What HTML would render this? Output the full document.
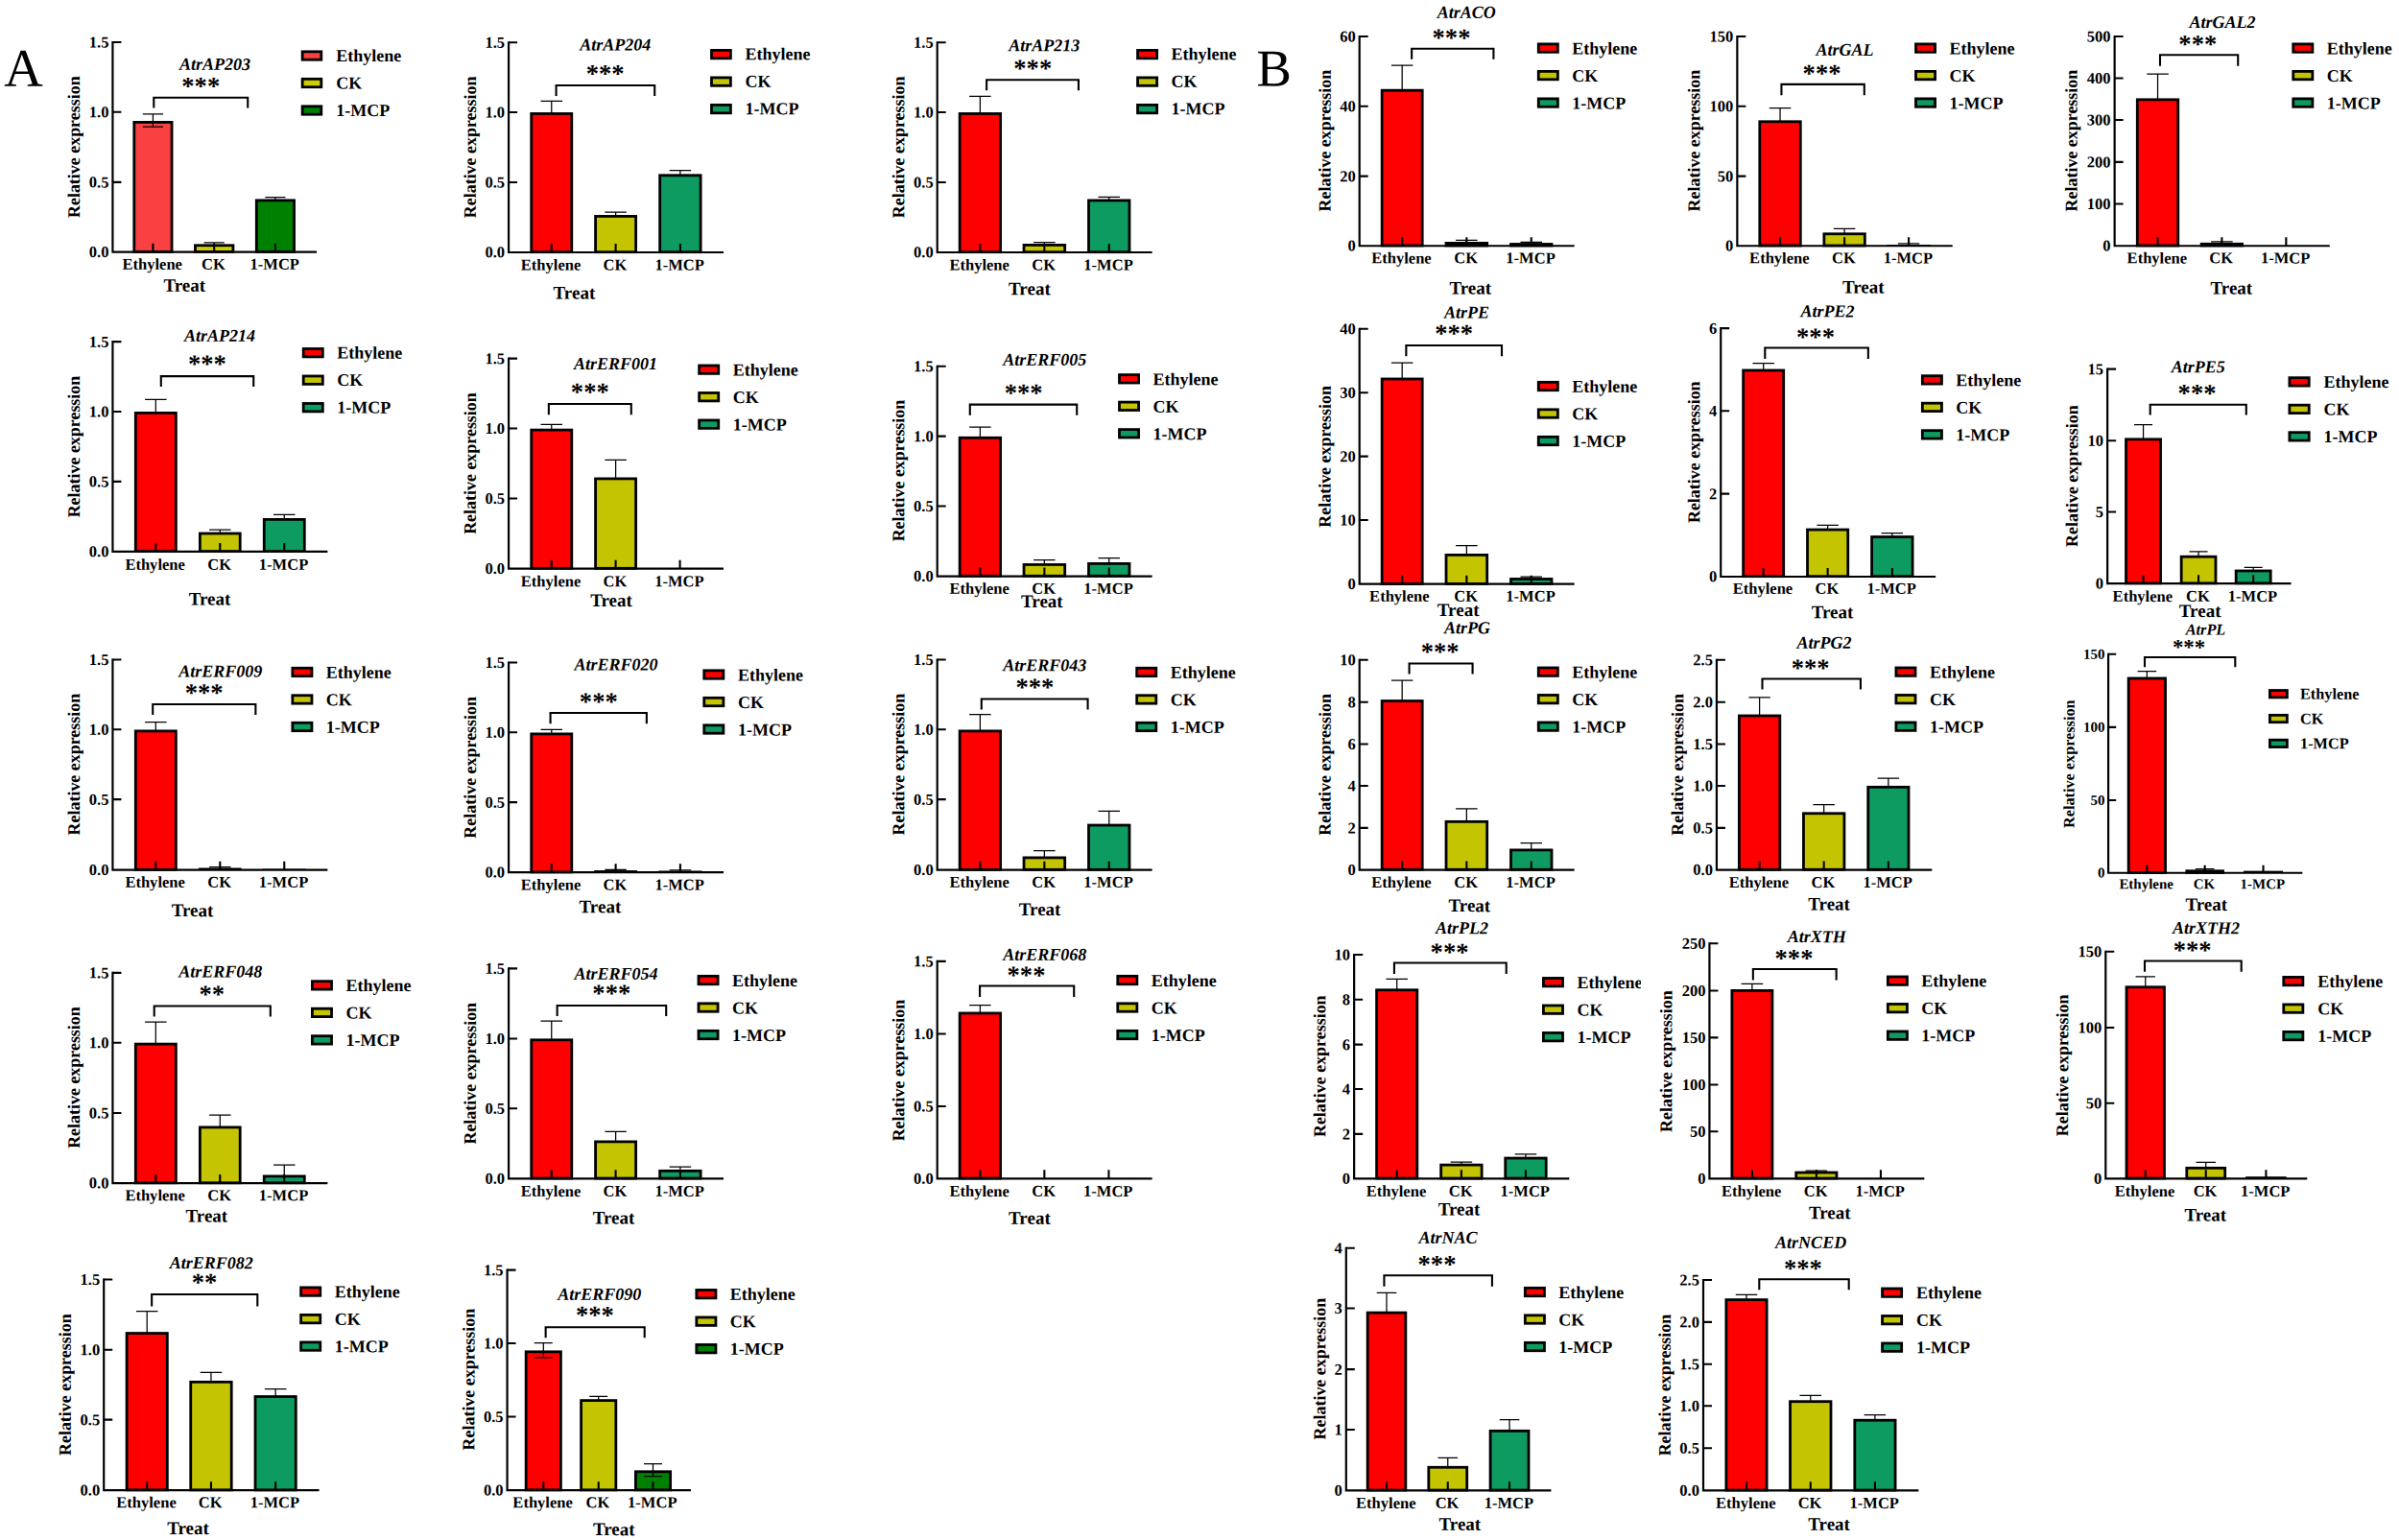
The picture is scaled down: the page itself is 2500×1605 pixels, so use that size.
<!DOCTYPE html><html><head><meta charset="utf-8"><title>Figure</title><style>html,body{margin:0;padding:0;background:#fff;overflow:hidden}svg{display:block}</style></head><body><svg width="2500" height="1605" viewBox="0 0 2500 1605" font-family="'Liberation Serif','Times New Roman',serif" font-weight="bold" fill="#000"><text x="4.3" y="89.7" transform="rotate(0.05 4.3 89.7)" font-size="56" font-weight="normal">A</text><text x="1309.5" y="89.5" transform="rotate(0.05 1309.5 89.5)" font-size="54.5" font-weight="normal">B</text><g><rect x="139.81" y="127.4" width="39.24" height="135" fill="#f94141" stroke="#000" stroke-width="2.8"/><rect x="203.45" y="255.76" width="39.46" height="6.64" fill="#cdcd00" stroke="#000" stroke-width="2.8"/><rect x="267.31" y="208.83" width="39.24" height="53.57" fill="#008000" stroke="#000" stroke-width="2.8"/><path d="M148.83 118.93H170.03M148.83 132.21H170.03M159.43 118.93V132.21" stroke="#000" stroke-width="1.25" fill="none"/><path d="M212.58 252.86H233.78M223.18 252.86V255.36" stroke="#000" stroke-width="1.25" fill="none"/><path d="M276.33 205.71H297.53M286.93 205.71V208.43" stroke="#000" stroke-width="1.25" fill="none"/><path d="M117.43 42.88V262.7H330" stroke="#000" stroke-width="2.2" fill="none" stroke-linejoin="miter" stroke-linecap="butt"/><path d="M117.43 43.93H126.43M117.43 116.79H126.43M117.43 189.86H126.43M159.43 262.7V253.7M223.18 262.7V253.7M286.93 262.7V253.7" stroke="#000" stroke-width="2.1" fill="none"/><text x="113.43" y="49.47" transform="rotate(0.05 113.43 49.47)" font-size="16.55" text-anchor="end">1.5</text><text x="113.43" y="122.33" transform="rotate(0.05 113.43 122.33)" font-size="16.55" text-anchor="end">1.0</text><text x="113.43" y="195.4" transform="rotate(0.05 113.43 195.4)" font-size="16.55" text-anchor="end">0.5</text><text x="113.43" y="268.04" transform="rotate(0.05 113.43 268.04)" font-size="16.55" text-anchor="end">0.0</text><text x="158.73" y="280.81" transform="rotate(0.05 158.73 280.81)" font-size="16.55" text-anchor="middle">Ethylene</text><text x="222.48" y="280.81" transform="rotate(0.05 222.48 280.81)" font-size="16.55" text-anchor="middle">CK</text><text x="286.23" y="280.81" transform="rotate(0.05 286.23 280.81)" font-size="16.55" text-anchor="middle">1-MCP</text><text transform="translate(83.03 153.21) rotate(-89.95)" font-size="17.95" text-anchor="middle">Relative expression</text><text x="192.21" y="303.71" transform="rotate(0.05 192.21 303.71)" font-size="19" text-anchor="middle">Treat</text><text x="223.89" y="72.86" transform="rotate(0.05 223.89 72.86)" font-size="18" font-style="italic" text-anchor="middle">AtrAP203</text><text x="209.25" y="98.59" transform="rotate(0.05 209.25 98.59)" font-size="26.6" text-anchor="middle">***</text><path d="M160.29 112.56V101.79H258.21V112.56" stroke="#000" stroke-width="2.1" fill="none"/><rect x="315.13" y="53.83" width="19.67" height="8.4" fill="#f94141" stroke="#000" stroke-width="2.8"/><text x="350.16" y="63.96" transform="rotate(0.05 350.16 63.96)" font-size="18">Ethylene</text><rect x="315.13" y="82.33" width="19.67" height="8.4" fill="#cdcd00" stroke="#000" stroke-width="2.8"/><text x="350.16" y="92.46" transform="rotate(0.05 350.16 92.46)" font-size="18">CK</text><rect x="315.13" y="110.83" width="19.67" height="8.4" fill="#008000" stroke="#000" stroke-width="2.8"/><text x="350.16" y="120.96" transform="rotate(0.05 350.16 120.96)" font-size="18">1-MCP</text></g><g><rect x="553.74" y="118.47" width="42.03" height="144.21" fill="#ff0000" stroke="#000" stroke-width="2.8"/><rect x="620.59" y="225.4" width="42.03" height="37.29" fill="#c4c400" stroke="#000" stroke-width="2.8"/><rect x="687.66" y="182.76" width="42.46" height="79.93" fill="#0d9b62" stroke="#000" stroke-width="2.8"/><path d="M563.5 105.29H586M574.75 105.29V118.07" stroke="#000" stroke-width="1.25" fill="none"/><path d="M630.36 221H652.86M641.61 221V225" stroke="#000" stroke-width="1.25" fill="none"/><path d="M697.64 177.5H720.14M708.89 177.5V182.36" stroke="#000" stroke-width="1.25" fill="none"/><path d="M530.07 43.16V262.99H754" stroke="#000" stroke-width="2.2" fill="none" stroke-linejoin="miter" stroke-linecap="butt"/><path d="M530.07 44.21H539.07M530.07 117.07H539.07M530.07 189.93H539.07M574.75 262.99V253.99M641.61 262.99V253.99M708.89 262.99V253.99" stroke="#000" stroke-width="2.1" fill="none"/><text x="526.07" y="49.76" transform="rotate(0.05 526.07 49.76)" font-size="16.55" text-anchor="end">1.5</text><text x="526.07" y="122.62" transform="rotate(0.05 526.07 122.62)" font-size="16.55" text-anchor="end">1.0</text><text x="526.07" y="195.47" transform="rotate(0.05 526.07 195.47)" font-size="16.55" text-anchor="end">0.5</text><text x="526.07" y="268.33" transform="rotate(0.05 526.07 268.33)" font-size="16.55" text-anchor="end">0.0</text><text x="574.05" y="281.53" transform="rotate(0.05 574.05 281.53)" font-size="16.55" text-anchor="middle">Ethylene</text><text x="640.91" y="281.53" transform="rotate(0.05 640.91 281.53)" font-size="16.55" text-anchor="middle">CK</text><text x="708.19" y="281.53" transform="rotate(0.05 708.19 281.53)" font-size="16.55" text-anchor="middle">1-MCP</text><text transform="translate(495.89 153.39) rotate(-89.95)" font-size="17.95" text-anchor="middle">Relative expression</text><text x="598.43" y="311.5" transform="rotate(0.05 598.43 311.5)" font-size="19" text-anchor="middle">Treat</text><text x="641.25" y="52.57" transform="rotate(0.05 641.25 52.57)" font-size="18" font-style="italic" text-anchor="middle">AtrAP204</text><text x="630.68" y="85.49" transform="rotate(0.05 630.68 85.49)" font-size="26.6" text-anchor="middle">***</text><path d="M579.57 99.99V89H682.21V99.99" stroke="#000" stroke-width="2.1" fill="none"/><rect x="741.49" y="52.4" width="19.89" height="8.4" fill="#ff0000" stroke="#000" stroke-width="2.8"/><text x="776.51" y="62.31" transform="rotate(0.05 776.51 62.31)" font-size="18">Ethylene</text><rect x="741.49" y="80.9" width="19.89" height="8.4" fill="#c4c400" stroke="#000" stroke-width="2.8"/><text x="776.51" y="90.81" transform="rotate(0.05 776.51 90.81)" font-size="18">CK</text><rect x="741.49" y="109.4" width="19.89" height="8.4" fill="#0d9b62" stroke="#000" stroke-width="2.8"/><text x="776.51" y="119.31" transform="rotate(0.05 776.51 119.31)" font-size="18">1-MCP</text></g><g><rect x="1000.16" y="118.47" width="42.46" height="144.21" fill="#ff0000" stroke="#000" stroke-width="2.8"/><rect x="1067.02" y="255.4" width="42.67" height="7.29" fill="#c4c400" stroke="#000" stroke-width="2.8"/><rect x="1134.52" y="208.9" width="42.46" height="53.79" fill="#0d9b62" stroke="#000" stroke-width="2.8"/><path d="M1010.14 100.36H1032.64M1021.39 100.36V118.07" stroke="#000" stroke-width="1.25" fill="none"/><path d="M1077.11 252.5H1099.61M1088.36 252.5V255" stroke="#000" stroke-width="1.25" fill="none"/><path d="M1144.5 205.36H1167M1155.75 205.36V208.5" stroke="#000" stroke-width="1.25" fill="none"/><path d="M976.71 43.16V262.99H1200.64" stroke="#000" stroke-width="2.2" fill="none" stroke-linejoin="miter" stroke-linecap="butt"/><path d="M976.71 44.21H985.71M976.71 117.07H985.71M976.71 189.93H985.71M1021.39 262.99V253.99M1088.36 262.99V253.99M1155.75 262.99V253.99" stroke="#000" stroke-width="2.1" fill="none"/><text x="972.71" y="49.76" transform="rotate(0.05 972.71 49.76)" font-size="16.55" text-anchor="end">1.5</text><text x="972.71" y="122.62" transform="rotate(0.05 972.71 122.62)" font-size="16.55" text-anchor="end">1.0</text><text x="972.71" y="195.47" transform="rotate(0.05 972.71 195.47)" font-size="16.55" text-anchor="end">0.5</text><text x="972.71" y="268.33" transform="rotate(0.05 972.71 268.33)" font-size="16.55" text-anchor="end">0.0</text><text x="1020.69" y="281.53" transform="rotate(0.05 1020.69 281.53)" font-size="16.55" text-anchor="middle">Ethylene</text><text x="1087.66" y="281.53" transform="rotate(0.05 1087.66 281.53)" font-size="16.55" text-anchor="middle">CK</text><text x="1155.05" y="281.53" transform="rotate(0.05 1155.05 281.53)" font-size="16.55" text-anchor="middle">1-MCP</text><text transform="translate(942.32 153.39) rotate(-89.95)" font-size="17.95" text-anchor="middle">Relative expression</text><text x="1072.93" y="307.21" transform="rotate(0.05 1072.93 307.21)" font-size="19" text-anchor="middle">Treat</text><text x="1088.21" y="53.21" transform="rotate(0.05 1088.21 53.21)" font-size="18" font-style="italic" text-anchor="middle">AtrAP213</text><text x="1076.25" y="79.91" transform="rotate(0.05 1076.25 79.91)" font-size="26.6" text-anchor="middle">***</text><path d="M1028.14 94.2V83.21H1123.93V94.2" stroke="#000" stroke-width="2.1" fill="none"/><rect x="1185.56" y="52.4" width="20.1" height="8.4" fill="#ff0000" stroke="#000" stroke-width="2.8"/><text x="1220.59" y="62.31" transform="rotate(0.05 1220.59 62.31)" font-size="18">Ethylene</text><rect x="1185.56" y="80.9" width="20.1" height="8.4" fill="#c4c400" stroke="#000" stroke-width="2.8"/><text x="1220.59" y="90.81" transform="rotate(0.05 1220.59 90.81)" font-size="18">CK</text><rect x="1185.56" y="109.4" width="20.1" height="8.4" fill="#0d9b62" stroke="#000" stroke-width="2.8"/><text x="1220.59" y="119.31" transform="rotate(0.05 1220.59 119.31)" font-size="18">1-MCP</text></g><g><rect x="141.31" y="430.4" width="42.03" height="144.21" fill="#ff0000" stroke="#000" stroke-width="2.8"/><rect x="208.38" y="555.97" width="41.81" height="18.64" fill="#c4c400" stroke="#000" stroke-width="2.8"/><rect x="275.24" y="541.4" width="42.03" height="33.21" fill="#0d9b62" stroke="#000" stroke-width="2.8"/><path d="M151.07 416.36H173.57M162.32 416.36V430" stroke="#000" stroke-width="1.25" fill="none"/><path d="M218.04 552.21H240.54M229.29 552.21V555.57" stroke="#000" stroke-width="1.25" fill="none"/><path d="M285 536.36H307.5M296.25 536.36V541" stroke="#000" stroke-width="1.25" fill="none"/><path d="M117.43 355.09V574.91H341.36" stroke="#000" stroke-width="2.2" fill="none" stroke-linejoin="miter" stroke-linecap="butt"/><path d="M117.43 356.14H126.43M117.43 429H126.43M117.43 501.86H126.43M162.32 574.91V565.91M229.29 574.91V565.91M296.25 574.91V565.91" stroke="#000" stroke-width="2.1" fill="none"/><text x="113.43" y="361.69" transform="rotate(0.05 113.43 361.69)" font-size="16.55" text-anchor="end">1.5</text><text x="113.43" y="434.54" transform="rotate(0.05 113.43 434.54)" font-size="16.55" text-anchor="end">1.0</text><text x="113.43" y="507.4" transform="rotate(0.05 113.43 507.4)" font-size="16.55" text-anchor="end">0.5</text><text x="113.43" y="580.26" transform="rotate(0.05 113.43 580.26)" font-size="16.55" text-anchor="end">0.0</text><text x="161.62" y="593.67" transform="rotate(0.05 161.62 593.67)" font-size="16.55" text-anchor="middle">Ethylene</text><text x="228.59" y="593.67" transform="rotate(0.05 228.59 593.67)" font-size="16.55" text-anchor="middle">CK</text><text x="295.55" y="593.67" transform="rotate(0.05 295.55 593.67)" font-size="16.55" text-anchor="middle">1-MCP</text><text transform="translate(83.03 465.54) rotate(-89.95)" font-size="17.95" text-anchor="middle">Relative expression</text><text x="218.57" y="630.5" transform="rotate(0.05 218.57 630.5)" font-size="19" text-anchor="middle">Treat</text><text x="228.93" y="355.71" transform="rotate(0.05 228.93 355.71)" font-size="18" font-style="italic" text-anchor="middle">AtrAP214</text><text x="215.89" y="387.99" transform="rotate(0.05 215.89 387.99)" font-size="26.6" text-anchor="middle">***</text><path d="M167.79 402.91V392.14H264.21V402.91" stroke="#000" stroke-width="2.1" fill="none"/><rect x="316.2" y="363.47" width="20.1" height="8.4" fill="#ff0000" stroke="#000" stroke-width="2.8"/><text x="351.23" y="373.6" transform="rotate(0.05 351.23 373.6)" font-size="18">Ethylene</text><rect x="316.2" y="391.97" width="20.1" height="8.4" fill="#c4c400" stroke="#000" stroke-width="2.8"/><text x="351.23" y="402.1" transform="rotate(0.05 351.23 402.1)" font-size="18">CK</text><rect x="316.2" y="420.47" width="20.1" height="8.4" fill="#0d9b62" stroke="#000" stroke-width="2.8"/><text x="351.23" y="430.6" transform="rotate(0.05 351.23 430.6)" font-size="18">1-MCP</text></g><g><rect x="553.74" y="448.11" width="42.03" height="144.21" fill="#ff0000" stroke="#000" stroke-width="2.8"/><rect x="620.59" y="498.9" width="42.03" height="93.43" fill="#c4c400" stroke="#000" stroke-width="2.8"/><path d="M563.5 442.43H586M574.75 442.43V447.71" stroke="#000" stroke-width="1.25" fill="none"/><path d="M630.36 479.29H652.86M641.61 479.29V498.5" stroke="#000" stroke-width="1.25" fill="none"/><path d="M530.07 372.59V592.63H754" stroke="#000" stroke-width="2.2" fill="none" stroke-linejoin="miter" stroke-linecap="butt"/><path d="M530.07 373.64H539.07M530.07 446.5H539.07M530.07 519.57H539.07M574.75 592.63V583.63M641.61 592.63V583.63M708.57 592.63V583.63" stroke="#000" stroke-width="2.1" fill="none"/><text x="526.07" y="379.19" transform="rotate(0.05 526.07 379.19)" font-size="16.55" text-anchor="end">1.5</text><text x="526.07" y="452.04" transform="rotate(0.05 526.07 452.04)" font-size="16.55" text-anchor="end">1.0</text><text x="526.07" y="525.12" transform="rotate(0.05 526.07 525.12)" font-size="16.55" text-anchor="end">0.5</text><text x="526.07" y="597.97" transform="rotate(0.05 526.07 597.97)" font-size="16.55" text-anchor="end">0.0</text><text x="574.05" y="611.17" transform="rotate(0.05 574.05 611.17)" font-size="16.55" text-anchor="middle">Ethylene</text><text x="640.91" y="611.17" transform="rotate(0.05 640.91 611.17)" font-size="16.55" text-anchor="middle">CK</text><text x="707.87" y="611.17" transform="rotate(0.05 707.87 611.17)" font-size="16.55" text-anchor="middle">1-MCP</text><text transform="translate(495.89 483.04) rotate(-89.95)" font-size="17.95" text-anchor="middle">Relative expression</text><text x="637" y="631.93" transform="rotate(0.05 637 631.93)" font-size="19" text-anchor="middle">Treat</text><text x="641.57" y="385" transform="rotate(0.05 641.57 385)" font-size="18" font-style="italic" text-anchor="middle">AtrERF001</text><text x="614.82" y="417.27" transform="rotate(0.05 614.82 417.27)" font-size="26.6" text-anchor="middle">***</text><path d="M571.86 432.2V421H657.79V432.2" stroke="#000" stroke-width="2.1" fill="none"/><rect x="728.63" y="380.97" width="20.1" height="8.4" fill="#ff0000" stroke="#000" stroke-width="2.8"/><text x="763.66" y="391.53" transform="rotate(0.05 763.66 391.53)" font-size="18">Ethylene</text><rect x="728.63" y="409.47" width="20.1" height="8.4" fill="#c4c400" stroke="#000" stroke-width="2.8"/><text x="763.66" y="420.03" transform="rotate(0.05 763.66 420.03)" font-size="18">CK</text><rect x="728.63" y="437.97" width="20.1" height="8.4" fill="#0d9b62" stroke="#000" stroke-width="2.8"/><text x="763.66" y="448.53" transform="rotate(0.05 763.66 448.53)" font-size="18">1-MCP</text></g><g><rect x="1000.16" y="456.26" width="42.46" height="144" fill="#ff0000" stroke="#000" stroke-width="2.8"/><rect x="1067.02" y="588.47" width="42.67" height="11.79" fill="#c4c400" stroke="#000" stroke-width="2.8"/><rect x="1134.52" y="587.4" width="42.46" height="12.86" fill="#0d9b62" stroke="#000" stroke-width="2.8"/><path d="M1010.14 445H1032.64M1021.39 445V455.86" stroke="#000" stroke-width="1.25" fill="none"/><path d="M1077.11 583.64H1099.61M1088.36 583.64V588.07" stroke="#000" stroke-width="1.25" fill="none"/><path d="M1144.5 581.71H1167M1155.75 581.71V587" stroke="#000" stroke-width="1.25" fill="none"/><path d="M976.71 380.74V600.56H1200.64" stroke="#000" stroke-width="2.2" fill="none" stroke-linejoin="miter" stroke-linecap="butt"/><path d="M976.71 381.79H985.71M976.71 454.64H985.71M976.71 527.5H985.71M1021.39 600.56V591.56M1088.36 600.56V591.56M1155.75 600.56V591.56" stroke="#000" stroke-width="2.1" fill="none"/><text x="972.71" y="387.33" transform="rotate(0.05 972.71 387.33)" font-size="16.55" text-anchor="end">1.5</text><text x="972.71" y="460.19" transform="rotate(0.05 972.71 460.19)" font-size="16.55" text-anchor="end">1.0</text><text x="972.71" y="533.04" transform="rotate(0.05 972.71 533.04)" font-size="16.55" text-anchor="end">0.5</text><text x="972.71" y="605.9" transform="rotate(0.05 972.71 605.9)" font-size="16.55" text-anchor="end">0.0</text><text x="1020.69" y="618.67" transform="rotate(0.05 1020.69 618.67)" font-size="16.55" text-anchor="middle">Ethylene</text><text x="1087.66" y="618.67" transform="rotate(0.05 1087.66 618.67)" font-size="16.55" text-anchor="middle">CK</text><text x="1155.05" y="618.67" transform="rotate(0.05 1155.05 618.67)" font-size="16.55" text-anchor="middle">1-MCP</text><text transform="translate(942.32 490.54) rotate(-89.95)" font-size="17.95" text-anchor="middle">Relative expression</text><text x="1085.89" y="633" transform="rotate(0.05 1085.89 633)" font-size="19" text-anchor="middle">Treat</text><text x="1088.75" y="380.71" transform="rotate(0.05 1088.75 380.71)" font-size="18" font-style="italic" text-anchor="middle">AtrERF005</text><text x="1066.61" y="418.34" transform="rotate(0.05 1066.61 418.34)" font-size="26.6" text-anchor="middle">***</text><path d="M1010.79 432.84V421.64H1122.21V432.84" stroke="#000" stroke-width="2.1" fill="none"/><rect x="1166.49" y="390.61" width="20.1" height="8.4" fill="#ff0000" stroke="#000" stroke-width="2.8"/><text x="1201.51" y="401.17" transform="rotate(0.05 1201.51 401.17)" font-size="18">Ethylene</text><rect x="1166.49" y="419.11" width="20.1" height="8.4" fill="#c4c400" stroke="#000" stroke-width="2.8"/><text x="1201.51" y="429.67" transform="rotate(0.05 1201.51 429.67)" font-size="18">CK</text><rect x="1166.49" y="447.61" width="20.1" height="8.4" fill="#0d9b62" stroke="#000" stroke-width="2.8"/><text x="1201.51" y="458.17" transform="rotate(0.05 1201.51 458.17)" font-size="18">1-MCP</text></g><g><rect x="141.31" y="761.9" width="42.03" height="144.43" fill="#ff0000" stroke="#000" stroke-width="2.8"/><rect x="206.98" y="904.5" width="44.61" height="2.13" fill="#000"/><rect x="273.84" y="905.57" width="44.83" height="1.06" fill="#000"/><path d="M151.07 752.57H173.57M162.32 752.57V761.5" stroke="#000" stroke-width="1.25" fill="none"/><path d="M218.04 903.64H240.54M229.29 903.64V905.5" stroke="#000" stroke-width="1.25" fill="none"/><path d="M117.43 686.38V906.63H341.36" stroke="#000" stroke-width="2.2" fill="none" stroke-linejoin="miter" stroke-linecap="butt"/><path d="M117.43 687.43H126.43M117.43 760.29H126.43M117.43 833.14H126.43M162.32 906.63V897.63M229.29 906.63V897.63M296.25 906.63V897.63" stroke="#000" stroke-width="2.1" fill="none"/><text x="113.43" y="692.97" transform="rotate(0.05 113.43 692.97)" font-size="16.55" text-anchor="end">1.5</text><text x="113.43" y="765.83" transform="rotate(0.05 113.43 765.83)" font-size="16.55" text-anchor="end">1.0</text><text x="113.43" y="838.69" transform="rotate(0.05 113.43 838.69)" font-size="16.55" text-anchor="end">0.5</text><text x="113.43" y="911.97" transform="rotate(0.05 113.43 911.97)" font-size="16.55" text-anchor="end">0.0</text><text x="161.62" y="924.74" transform="rotate(0.05 161.62 924.74)" font-size="16.55" text-anchor="middle">Ethylene</text><text x="228.59" y="924.74" transform="rotate(0.05 228.59 924.74)" font-size="16.55" text-anchor="middle">CK</text><text x="295.55" y="924.74" transform="rotate(0.05 295.55 924.74)" font-size="16.55" text-anchor="middle">1-MCP</text><text transform="translate(83.03 796.61) rotate(-89.95)" font-size="17.95" text-anchor="middle">Relative expression</text><text x="200.57" y="955.14" transform="rotate(0.05 200.57 955.14)" font-size="19" text-anchor="middle">Treat</text><text x="229.79" y="705.43" transform="rotate(0.05 229.79 705.43)" font-size="18" font-style="italic" text-anchor="middle">AtrERF009</text><text x="212.68" y="730.84" transform="rotate(0.05 212.68 730.84)" font-size="26.6" text-anchor="middle">***</text><path d="M159.21 744.91V733.93H266.36V744.91" stroke="#000" stroke-width="2.1" fill="none"/><rect x="304.84" y="696.26" width="20.1" height="8.4" fill="#ff0000" stroke="#000" stroke-width="2.8"/><text x="339.87" y="706.81" transform="rotate(0.05 339.87 706.81)" font-size="18">Ethylene</text><rect x="304.84" y="724.76" width="20.1" height="8.4" fill="#c4c400" stroke="#000" stroke-width="2.8"/><text x="339.87" y="735.31" transform="rotate(0.05 339.87 735.31)" font-size="18">CK</text><rect x="304.84" y="753.26" width="20.1" height="8.4" fill="#0d9b62" stroke="#000" stroke-width="2.8"/><text x="339.87" y="763.81" transform="rotate(0.05 339.87 763.81)" font-size="18">1-MCP</text></g><g><rect x="553.74" y="764.9" width="42.03" height="144" fill="#ff0000" stroke="#000" stroke-width="2.8"/><rect x="619.19" y="907.07" width="44.83" height="2.13" fill="#000"/><rect x="686.26" y="907.5" width="45.26" height="1.7" fill="#000"/><path d="M563.5 760.29H586M574.75 760.29V764.5" stroke="#000" stroke-width="1.25" fill="none"/><path d="M630.36 906.43H652.86M641.61 906.43V908.07" stroke="#000" stroke-width="1.25" fill="none"/><path d="M697.64 906.86H720.14M708.89 906.86V908.5" stroke="#000" stroke-width="1.25" fill="none"/><path d="M530.07 689.38V909.2H754" stroke="#000" stroke-width="2.2" fill="none" stroke-linejoin="miter" stroke-linecap="butt"/><path d="M530.07 690.43H539.07M530.07 763.29H539.07M530.07 836.14H539.07M574.75 909.2V900.2M641.61 909.2V900.2M708.89 909.2V900.2" stroke="#000" stroke-width="2.1" fill="none"/><text x="526.07" y="695.97" transform="rotate(0.05 526.07 695.97)" font-size="16.55" text-anchor="end">1.5</text><text x="526.07" y="768.83" transform="rotate(0.05 526.07 768.83)" font-size="16.55" text-anchor="end">1.0</text><text x="526.07" y="841.69" transform="rotate(0.05 526.07 841.69)" font-size="16.55" text-anchor="end">0.5</text><text x="526.07" y="914.54" transform="rotate(0.05 526.07 914.54)" font-size="16.55" text-anchor="end">0.0</text><text x="574.05" y="927.53" transform="rotate(0.05 574.05 927.53)" font-size="16.55" text-anchor="middle">Ethylene</text><text x="640.91" y="927.53" transform="rotate(0.05 640.91 927.53)" font-size="16.55" text-anchor="middle">CK</text><text x="708.19" y="927.53" transform="rotate(0.05 708.19 927.53)" font-size="16.55" text-anchor="middle">1-MCP</text><text transform="translate(495.89 799.82) rotate(-89.95)" font-size="17.95" text-anchor="middle">Relative expression</text><text x="625.43" y="951.29" transform="rotate(0.05 625.43 951.29)" font-size="19" text-anchor="middle">Treat</text><text x="642.11" y="698.57" transform="rotate(0.05 642.11 698.57)" font-size="18" font-style="italic" text-anchor="middle">AtrERF020</text><text x="623.82" y="739.95" transform="rotate(0.05 623.82 739.95)" font-size="26.6" text-anchor="middle">***</text><path d="M573.57 754.34V742.93H673.86V754.34" stroke="#000" stroke-width="2.1" fill="none"/><rect x="733.77" y="698.83" width="20.1" height="8.4" fill="#ff0000" stroke="#000" stroke-width="2.8"/><text x="769.01" y="709.39" transform="rotate(0.05 769.01 709.39)" font-size="18">Ethylene</text><rect x="733.77" y="727.33" width="20.1" height="8.4" fill="#c4c400" stroke="#000" stroke-width="2.8"/><text x="769.01" y="737.89" transform="rotate(0.05 769.01 737.89)" font-size="18">CK</text><rect x="733.77" y="755.83" width="20.1" height="8.4" fill="#0d9b62" stroke="#000" stroke-width="2.8"/><text x="769.01" y="766.39" transform="rotate(0.05 769.01 766.39)" font-size="18">1-MCP</text></g><g><rect x="1000.16" y="761.9" width="42.46" height="144.43" fill="#ff0000" stroke="#000" stroke-width="2.8"/><rect x="1067.02" y="893.9" width="42.67" height="12.43" fill="#c4c400" stroke="#000" stroke-width="2.8"/><rect x="1134.52" y="860.04" width="42.46" height="46.29" fill="#0d9b62" stroke="#000" stroke-width="2.8"/><path d="M1010.14 744.64H1032.64M1021.39 744.64V761.5" stroke="#000" stroke-width="1.25" fill="none"/><path d="M1077.11 886.71H1099.61M1088.36 886.71V893.5" stroke="#000" stroke-width="1.25" fill="none"/><path d="M1144.5 845.36H1167M1155.75 845.36V859.64" stroke="#000" stroke-width="1.25" fill="none"/><path d="M976.71 686.38V906.63H1200.64" stroke="#000" stroke-width="2.2" fill="none" stroke-linejoin="miter" stroke-linecap="butt"/><path d="M976.71 687.43H985.71M976.71 760.29H985.71M976.71 833.14H985.71M1021.39 906.63V897.63M1088.36 906.63V897.63M1155.75 906.63V897.63" stroke="#000" stroke-width="2.1" fill="none"/><text x="972.71" y="692.97" transform="rotate(0.05 972.71 692.97)" font-size="16.55" text-anchor="end">1.5</text><text x="972.71" y="765.83" transform="rotate(0.05 972.71 765.83)" font-size="16.55" text-anchor="end">1.0</text><text x="972.71" y="838.69" transform="rotate(0.05 972.71 838.69)" font-size="16.55" text-anchor="end">0.5</text><text x="972.71" y="911.97" transform="rotate(0.05 972.71 911.97)" font-size="16.55" text-anchor="end">0.0</text><text x="1020.69" y="924.74" transform="rotate(0.05 1020.69 924.74)" font-size="16.55" text-anchor="middle">Ethylene</text><text x="1087.66" y="924.74" transform="rotate(0.05 1087.66 924.74)" font-size="16.55" text-anchor="middle">CK</text><text x="1155.05" y="924.74" transform="rotate(0.05 1155.05 924.74)" font-size="16.55" text-anchor="middle">1-MCP</text><text transform="translate(942.32 796.61) rotate(-89.95)" font-size="17.95" text-anchor="middle">Relative expression</text><text x="1083.64" y="954.07" transform="rotate(0.05 1083.64 954.07)" font-size="19" text-anchor="middle">Treat</text><text x="1088.75" y="699.21" transform="rotate(0.05 1088.75 699.21)" font-size="18" font-style="italic" text-anchor="middle">AtrERF043</text><text x="1078.39" y="724.95" transform="rotate(0.05 1078.39 724.95)" font-size="26.6" text-anchor="middle">***</text><path d="M1022.79 739.56V728.57H1133.57V739.56" stroke="#000" stroke-width="2.1" fill="none"/><rect x="1184.7" y="696.26" width="20.1" height="8.4" fill="#ff0000" stroke="#000" stroke-width="2.8"/><text x="1219.73" y="706.81" transform="rotate(0.05 1219.73 706.81)" font-size="18">Ethylene</text><rect x="1184.7" y="724.76" width="20.1" height="8.4" fill="#c4c400" stroke="#000" stroke-width="2.8"/><text x="1219.73" y="735.31" transform="rotate(0.05 1219.73 735.31)" font-size="18">CK</text><rect x="1184.7" y="753.26" width="20.1" height="8.4" fill="#0d9b62" stroke="#000" stroke-width="2.8"/><text x="1219.73" y="763.81" transform="rotate(0.05 1219.73 763.81)" font-size="18">1-MCP</text></g><g><rect x="141.31" y="1088.11" width="42.03" height="144.64" fill="#ff0000" stroke="#000" stroke-width="2.8"/><rect x="208.38" y="1174.9" width="41.81" height="57.86" fill="#c4c400" stroke="#000" stroke-width="2.8"/><rect x="275.24" y="1225.9" width="42.03" height="6.86" fill="#0d9b62" stroke="#000" stroke-width="2.8"/><path d="M151.07 1065.07H173.57M162.32 1065.07V1087.71" stroke="#000" stroke-width="1.25" fill="none"/><path d="M218.04 1162.14H240.54M229.29 1162.14V1174.5" stroke="#000" stroke-width="1.25" fill="none"/><path d="M285 1214.21H307.5M296.25 1214.21V1225.5" stroke="#000" stroke-width="1.25" fill="none"/><path d="M117.43 1012.81V1233.06H341.36" stroke="#000" stroke-width="2.2" fill="none" stroke-linejoin="miter" stroke-linecap="butt"/><path d="M117.43 1013.86H126.43M117.43 1086.71H126.43M117.43 1160H126.43M162.32 1233.06V1224.06M229.29 1233.06V1224.06M296.25 1233.06V1224.06" stroke="#000" stroke-width="2.1" fill="none"/><text x="113.43" y="1019.4" transform="rotate(0.05 113.43 1019.4)" font-size="16.55" text-anchor="end">1.5</text><text x="113.43" y="1092.26" transform="rotate(0.05 113.43 1092.26)" font-size="16.55" text-anchor="end">1.0</text><text x="113.43" y="1165.54" transform="rotate(0.05 113.43 1165.54)" font-size="16.55" text-anchor="end">0.5</text><text x="113.43" y="1238.4" transform="rotate(0.05 113.43 1238.4)" font-size="16.55" text-anchor="end">0.0</text><text x="161.62" y="1251.17" transform="rotate(0.05 161.62 1251.17)" font-size="16.55" text-anchor="middle">Ethylene</text><text x="228.59" y="1251.17" transform="rotate(0.05 228.59 1251.17)" font-size="16.55" text-anchor="middle">CK</text><text x="295.55" y="1251.17" transform="rotate(0.05 295.55 1251.17)" font-size="16.55" text-anchor="middle">1-MCP</text><text transform="translate(83.03 1123.04) rotate(-89.95)" font-size="17.95" text-anchor="middle">Relative expression</text><text x="215.36" y="1273.43" transform="rotate(0.05 215.36 1273.43)" font-size="19" text-anchor="middle">Treat</text><text x="229.79" y="1018.57" transform="rotate(0.05 229.79 1018.57)" font-size="18" font-style="italic" text-anchor="middle">AtrERF048</text><text x="220.71" y="1044.95" transform="rotate(0.05 220.71 1044.95)" font-size="26.6" text-anchor="middle">**</text><path d="M160.71 1059.56V1048.57H281.79V1059.56" stroke="#000" stroke-width="2.1" fill="none"/><rect x="325.41" y="1022.69" width="20.1" height="8.4" fill="#ff0000" stroke="#000" stroke-width="2.8"/><text x="360.44" y="1033.03" transform="rotate(0.05 360.44 1033.03)" font-size="18">Ethylene</text><rect x="325.41" y="1051.19" width="20.1" height="8.4" fill="#c4c400" stroke="#000" stroke-width="2.8"/><text x="360.44" y="1061.53" transform="rotate(0.05 360.44 1061.53)" font-size="18">CK</text><rect x="325.41" y="1079.69" width="20.1" height="8.4" fill="#0d9b62" stroke="#000" stroke-width="2.8"/><text x="360.44" y="1090.03" transform="rotate(0.05 360.44 1090.03)" font-size="18">1-MCP</text></g><g><rect x="553.74" y="1083.83" width="42.03" height="144.21" fill="#ff0000" stroke="#000" stroke-width="2.8"/><rect x="620.59" y="1189.9" width="42.03" height="38.14" fill="#c4c400" stroke="#000" stroke-width="2.8"/><rect x="687.66" y="1220.33" width="42.46" height="7.71" fill="#0d9b62" stroke="#000" stroke-width="2.8"/><path d="M563.5 1064.21H586M574.75 1064.21V1083.43" stroke="#000" stroke-width="1.25" fill="none"/><path d="M630.36 1179.29H652.86M641.61 1179.29V1189.5" stroke="#000" stroke-width="1.25" fill="none"/><path d="M697.64 1216.14H720.14M708.89 1216.14V1219.93" stroke="#000" stroke-width="1.25" fill="none"/><path d="M530.07 1008.31V1228.34H754" stroke="#000" stroke-width="2.2" fill="none" stroke-linejoin="miter" stroke-linecap="butt"/><path d="M530.07 1009.36H539.07M530.07 1082.43H539.07M530.07 1155.29H539.07M574.75 1228.34V1219.34M641.61 1228.34V1219.34M708.89 1228.34V1219.34" stroke="#000" stroke-width="2.1" fill="none"/><text x="526.07" y="1014.9" transform="rotate(0.05 526.07 1014.9)" font-size="16.55" text-anchor="end">1.5</text><text x="526.07" y="1087.97" transform="rotate(0.05 526.07 1087.97)" font-size="16.55" text-anchor="end">1.0</text><text x="526.07" y="1160.83" transform="rotate(0.05 526.07 1160.83)" font-size="16.55" text-anchor="end">0.5</text><text x="526.07" y="1233.69" transform="rotate(0.05 526.07 1233.69)" font-size="16.55" text-anchor="end">0.0</text><text x="574.05" y="1246.89" transform="rotate(0.05 574.05 1246.89)" font-size="16.55" text-anchor="middle">Ethylene</text><text x="640.91" y="1246.89" transform="rotate(0.05 640.91 1246.89)" font-size="16.55" text-anchor="middle">CK</text><text x="708.19" y="1246.89" transform="rotate(0.05 708.19 1246.89)" font-size="16.55" text-anchor="middle">1-MCP</text><text transform="translate(495.89 1118.75) rotate(-89.95)" font-size="17.95" text-anchor="middle">Relative expression</text><text x="639.46" y="1275.57" transform="rotate(0.05 639.46 1275.57)" font-size="19" text-anchor="middle">Treat</text><text x="642.11" y="1020.71" transform="rotate(0.05 642.11 1020.71)" font-size="18" font-style="italic" text-anchor="middle">AtrERF054</text><text x="637.32" y="1043.99" transform="rotate(0.05 637.32 1043.99)" font-size="26.6" text-anchor="middle">***</text><path d="M580.64 1058.91V1047.93H694.21V1058.91" stroke="#000" stroke-width="2.1" fill="none"/><rect x="727.99" y="1017.33" width="20.1" height="8.4" fill="#ff0000" stroke="#000" stroke-width="2.8"/><text x="763.01" y="1027.89" transform="rotate(0.05 763.01 1027.89)" font-size="18">Ethylene</text><rect x="727.99" y="1045.83" width="20.1" height="8.4" fill="#c4c400" stroke="#000" stroke-width="2.8"/><text x="763.01" y="1056.39" transform="rotate(0.05 763.01 1056.39)" font-size="18">CK</text><rect x="727.99" y="1074.33" width="20.1" height="8.4" fill="#0d9b62" stroke="#000" stroke-width="2.8"/><text x="763.01" y="1084.89" transform="rotate(0.05 763.01 1084.89)" font-size="18">1-MCP</text></g><g><rect x="1000.16" y="1055.97" width="42.46" height="172.07" fill="#ff0000" stroke="#000" stroke-width="2.8"/><path d="M1010.14 1047.5H1032.64M1021.39 1047.5V1055.57" stroke="#000" stroke-width="1.25" fill="none"/><path d="M976.71 1000.81V1228.34H1200.64" stroke="#000" stroke-width="2.2" fill="none" stroke-linejoin="miter" stroke-linecap="butt"/><path d="M976.71 1001.86H985.71M976.71 1077.5H985.71M976.71 1152.93H985.71M1021.39 1228.34V1219.34M1088.36 1228.34V1219.34M1155.43 1228.34V1219.34" stroke="#000" stroke-width="2.1" fill="none"/><text x="972.71" y="1007.4" transform="rotate(0.05 972.71 1007.4)" font-size="16.55" text-anchor="end">1.5</text><text x="972.71" y="1083.04" transform="rotate(0.05 972.71 1083.04)" font-size="16.55" text-anchor="end">1.0</text><text x="972.71" y="1158.47" transform="rotate(0.05 972.71 1158.47)" font-size="16.55" text-anchor="end">0.5</text><text x="972.71" y="1233.69" transform="rotate(0.05 972.71 1233.69)" font-size="16.55" text-anchor="end">0.0</text><text x="1020.69" y="1246.89" transform="rotate(0.05 1020.69 1246.89)" font-size="16.55" text-anchor="middle">Ethylene</text><text x="1087.66" y="1246.89" transform="rotate(0.05 1087.66 1246.89)" font-size="16.55" text-anchor="middle">CK</text><text x="1154.73" y="1246.89" transform="rotate(0.05 1154.73 1246.89)" font-size="16.55" text-anchor="middle">1-MCP</text><text transform="translate(942.32 1115.54) rotate(-89.95)" font-size="17.95" text-anchor="middle">Relative expression</text><text x="1072.93" y="1275.79" transform="rotate(0.05 1072.93 1275.79)" font-size="19" text-anchor="middle">Treat</text><text x="1088.75" y="1000.79" transform="rotate(0.05 1088.75 1000.79)" font-size="18" font-style="italic" text-anchor="middle">AtrERF068</text><text x="1069.5" y="1025.13" transform="rotate(0.05 1069.5 1025.13)" font-size="26.6" text-anchor="middle">***</text><path d="M1021.07 1038.99V1027.57H1119.21V1038.99" stroke="#000" stroke-width="2.1" fill="none"/><rect x="1164.77" y="1017.33" width="20.1" height="8.4" fill="#ff0000" stroke="#000" stroke-width="2.8"/><text x="1199.8" y="1027.89" transform="rotate(0.05 1199.8 1027.89)" font-size="18">Ethylene</text><rect x="1164.77" y="1045.83" width="20.1" height="8.4" fill="#c4c400" stroke="#000" stroke-width="2.8"/><text x="1199.8" y="1056.39" transform="rotate(0.05 1199.8 1056.39)" font-size="18">CK</text><rect x="1164.77" y="1074.33" width="20.1" height="8.4" fill="#0d9b62" stroke="#000" stroke-width="2.8"/><text x="1199.8" y="1084.89" transform="rotate(0.05 1199.8 1084.89)" font-size="18">1-MCP</text></g><g><rect x="132.09" y="1389.54" width="42.24" height="163.29" fill="#ff0000" stroke="#000" stroke-width="2.8"/><rect x="198.74" y="1440.33" width="42.46" height="112.5" fill="#c4c400" stroke="#000" stroke-width="2.8"/><rect x="266.02" y="1455.54" width="42.24" height="97.29" fill="#0d9b62" stroke="#000" stroke-width="2.8"/><path d="M141.96 1366.5H164.46M153.21 1366.5V1389.14" stroke="#000" stroke-width="1.25" fill="none"/><path d="M208.71 1430.36H231.21M219.96 1430.36V1439.93" stroke="#000" stroke-width="1.25" fill="none"/><path d="M275.89 1447.71H298.39M287.14 1447.71V1455.14" stroke="#000" stroke-width="1.25" fill="none"/><path d="M108.21 1332.45V1553.13H332.57" stroke="#000" stroke-width="2.2" fill="none" stroke-linejoin="miter" stroke-linecap="butt"/><path d="M108.21 1333.5H117.21M108.21 1406.79H117.21M108.21 1479.64H117.21M153.21 1553.13V1544.13M219.96 1553.13V1544.13M287.14 1553.13V1544.13" stroke="#000" stroke-width="2.1" fill="none"/><text x="104.21" y="1339.04" transform="rotate(0.05 104.21 1339.04)" font-size="16.55" text-anchor="end">1.5</text><text x="104.21" y="1412.33" transform="rotate(0.05 104.21 1412.33)" font-size="16.55" text-anchor="end">1.0</text><text x="104.21" y="1485.19" transform="rotate(0.05 104.21 1485.19)" font-size="16.55" text-anchor="end">0.5</text><text x="104.21" y="1558.47" transform="rotate(0.05 104.21 1558.47)" font-size="16.55" text-anchor="end">0.0</text><text x="152.51" y="1571.24" transform="rotate(0.05 152.51 1571.24)" font-size="16.55" text-anchor="middle">Ethylene</text><text x="219.26" y="1571.24" transform="rotate(0.05 219.26 1571.24)" font-size="16.55" text-anchor="middle">CK</text><text x="286.44" y="1571.24" transform="rotate(0.05 286.44 1571.24)" font-size="16.55" text-anchor="middle">1-MCP</text><text transform="translate(73.82 1443.21) rotate(-89.95)" font-size="17.95" text-anchor="middle">Relative expression</text><text x="196.07" y="1599.07" transform="rotate(0.05 196.07 1599.07)" font-size="19" text-anchor="middle">Treat</text><text x="220.36" y="1322.14" transform="rotate(0.05 220.36 1322.14)" font-size="18" font-style="italic" text-anchor="middle">AtrERF082</text><text x="213" y="1345.31" transform="rotate(0.05 213 1345.31)" font-size="26.6" text-anchor="middle">**</text><path d="M158.14 1361.41V1348.93H268.29V1361.41" stroke="#000" stroke-width="2.1" fill="none"/><rect x="313.63" y="1341.9" width="20.1" height="8.4" fill="#ff0000" stroke="#000" stroke-width="2.8"/><text x="348.66" y="1352.24" transform="rotate(0.05 348.66 1352.24)" font-size="18">Ethylene</text><rect x="313.63" y="1370.4" width="20.1" height="8.4" fill="#c4c400" stroke="#000" stroke-width="2.8"/><text x="348.66" y="1380.74" transform="rotate(0.05 348.66 1380.74)" font-size="18">CK</text><rect x="313.63" y="1398.9" width="20.1" height="8.4" fill="#0d9b62" stroke="#000" stroke-width="2.8"/><text x="348.66" y="1409.24" transform="rotate(0.05 348.66 1409.24)" font-size="18">1-MCP</text></g><g><rect x="548.16" y="1408.83" width="36.24" height="144" fill="#ff0000" stroke="#000" stroke-width="2.8"/><rect x="605.59" y="1459.61" width="36.24" height="93.21" fill="#c4c400" stroke="#000" stroke-width="2.8"/><rect x="662.38" y="1533.76" width="36.24" height="19.07" fill="#008000" stroke="#000" stroke-width="2.8"/><path d="M556.79 1399.71H575.79M556.79 1414.93H575.79M566.29 1399.71V1414.93" stroke="#000" stroke-width="1.25" fill="none"/><path d="M614.21 1455.43H633.21M623.71 1455.43V1459.21" stroke="#000" stroke-width="1.25" fill="none"/><path d="M671 1525.71H690M671 1538.57H690M680.5 1525.71V1538.57" stroke="#000" stroke-width="1.25" fill="none"/><path d="M528.57 1322.59V1553.13H719.93" stroke="#000" stroke-width="2.2" fill="none" stroke-linejoin="miter" stroke-linecap="butt"/><path d="M528.57 1323.64H537.57M528.57 1399.93H537.57M528.57 1476.43H537.57M566.29 1553.13V1544.13M623.71 1553.13V1544.13M680.5 1553.13V1544.13" stroke="#000" stroke-width="2.1" fill="none"/><text x="524.57" y="1329.19" transform="rotate(0.05 524.57 1329.19)" font-size="16.55" text-anchor="end">1.5</text><text x="524.57" y="1405.47" transform="rotate(0.05 524.57 1405.47)" font-size="16.55" text-anchor="end">1.0</text><text x="524.57" y="1481.97" transform="rotate(0.05 524.57 1481.97)" font-size="16.55" text-anchor="end">0.5</text><text x="524.57" y="1558.47" transform="rotate(0.05 524.57 1558.47)" font-size="16.55" text-anchor="end">0.0</text><text x="565.59" y="1571.24" transform="rotate(0.05 565.59 1571.24)" font-size="16.55" text-anchor="middle">Ethylene</text><text x="623.01" y="1571.24" transform="rotate(0.05 623.01 1571.24)" font-size="16.55" text-anchor="middle">CK</text><text x="679.8" y="1571.24" transform="rotate(0.05 679.8 1571.24)" font-size="16.55" text-anchor="middle">1-MCP</text><text transform="translate(494.39 1437.64) rotate(-89.95)" font-size="17.95" text-anchor="middle">Relative expression</text><text x="639.79" y="1600.14" transform="rotate(0.05 639.79 1600.14)" font-size="19" text-anchor="middle">Treat</text><text x="624.75" y="1354.71" transform="rotate(0.05 624.75 1354.71)" font-size="18" font-style="italic" text-anchor="middle">AtrERF090</text><text x="619.86" y="1379.38" transform="rotate(0.05 619.86 1379.38)" font-size="26.6" text-anchor="middle">***</text><path d="M568.64 1394.2V1383.21H671.71V1394.2" stroke="#000" stroke-width="2.1" fill="none"/><rect x="725.84" y="1344.47" width="20.1" height="8.4" fill="#ff0000" stroke="#000" stroke-width="2.8"/><text x="760.87" y="1354.81" transform="rotate(0.05 760.87 1354.81)" font-size="18">Ethylene</text><rect x="725.84" y="1372.97" width="20.1" height="8.4" fill="#c4c400" stroke="#000" stroke-width="2.8"/><text x="760.87" y="1383.31" transform="rotate(0.05 760.87 1383.31)" font-size="18">CK</text><rect x="725.84" y="1401.47" width="20.1" height="8.4" fill="#008000" stroke="#000" stroke-width="2.8"/><text x="760.87" y="1411.81" transform="rotate(0.05 760.87 1411.81)" font-size="18">1-MCP</text></g><g><rect x="1440.16" y="94.19" width="42.03" height="161.79" fill="#ff0000" stroke="#000" stroke-width="2.8"/><rect x="1507.02" y="253.4" width="42.67" height="2.57" fill="#c4c400" stroke="#000" stroke-width="2.8"/><rect x="1574.52" y="254.47" width="42.46" height="1.5" fill="#0d9b62" stroke="#000" stroke-width="2.8"/><path d="M1449.93 68.14H1472.43M1461.18 68.14V93.79" stroke="#000" stroke-width="1.25" fill="none"/><path d="M1517.11 250.29H1539.61M1528.36 250.29V253" stroke="#000" stroke-width="1.25" fill="none"/><path d="M1584.5 252.43H1607M1595.75 252.43V254.07" stroke="#000" stroke-width="1.25" fill="none"/><path d="M1416.71 36.88V256.27H1640.64" stroke="#000" stroke-width="2.2" fill="none" stroke-linejoin="miter" stroke-linecap="butt"/><path d="M1416.71 37.93H1425.71M1416.71 110.79H1425.71M1416.71 183.64H1425.71M1461.18 256.27V247.27M1528.36 256.27V247.27M1595.75 256.27V247.27" stroke="#000" stroke-width="2.1" fill="none"/><text x="1412.71" y="43.47" transform="rotate(0.05 1412.71 43.47)" font-size="16.55" text-anchor="end">60</text><text x="1412.71" y="116.33" transform="rotate(0.05 1412.71 116.33)" font-size="16.55" text-anchor="end">40</text><text x="1412.71" y="189.19" transform="rotate(0.05 1412.71 189.19)" font-size="16.55" text-anchor="end">20</text><text x="1412.71" y="261.62" transform="rotate(0.05 1412.71 261.62)" font-size="16.55" text-anchor="end">0</text><text x="1460.48" y="274.39" transform="rotate(0.05 1460.48 274.39)" font-size="16.55" text-anchor="middle">Ethylene</text><text x="1527.66" y="274.39" transform="rotate(0.05 1527.66 274.39)" font-size="16.55" text-anchor="middle">CK</text><text x="1595.05" y="274.39" transform="rotate(0.05 1595.05 274.39)" font-size="16.55" text-anchor="middle">1-MCP</text><text transform="translate(1386.6 146.57) rotate(-89.95)" font-size="17.95" text-anchor="middle">Relative expression</text><text x="1532.21" y="306.5" transform="rotate(0.05 1532.21 306.5)" font-size="19" text-anchor="middle">Treat</text><text x="1528.32" y="18.86" transform="rotate(0.05 1528.32 18.86)" font-size="18" font-style="italic" text-anchor="middle">AtrACO</text><text x="1512.5" y="48.13" transform="rotate(0.05 1512.5 48.13)" font-size="26.6" text-anchor="middle">***</text><path d="M1471.14 61.77V50.79H1556.43V61.77" stroke="#000" stroke-width="2.1" fill="none"/><rect x="1603.27" y="45.9" width="20.1" height="8.4" fill="#ff0000" stroke="#000" stroke-width="2.8"/><text x="1638.3" y="56.46" transform="rotate(0.05 1638.3 56.46)" font-size="18">Ethylene</text><rect x="1603.27" y="74.4" width="20.1" height="8.4" fill="#c4c400" stroke="#000" stroke-width="2.8"/><text x="1638.3" y="84.96" transform="rotate(0.05 1638.3 84.96)" font-size="18">CK</text><rect x="1603.27" y="102.9" width="20.1" height="8.4" fill="#0d9b62" stroke="#000" stroke-width="2.8"/><text x="1638.3" y="113.46" transform="rotate(0.05 1638.3 113.46)" font-size="18">1-MCP</text></g><g><rect x="1833.81" y="126.76" width="42.46" height="129.21" fill="#ff0000" stroke="#000" stroke-width="2.8"/><rect x="1900.88" y="243.76" width="42.46" height="12.21" fill="#c4c400" stroke="#000" stroke-width="2.8"/><rect x="1966.34" y="255" width="45.47" height="1.27" fill="#000"/><path d="M1843.79 112.5H1866.29M1855.04 112.5V126.36" stroke="#000" stroke-width="1.25" fill="none"/><path d="M1910.86 238.29H1933.36M1922.11 238.29V243.36" stroke="#000" stroke-width="1.25" fill="none"/><path d="M1977.82 253.93H2000.32M1989.07 253.93V256" stroke="#000" stroke-width="1.25" fill="none"/><path d="M1810.36 36.88V256.27H2034.71" stroke="#000" stroke-width="2.2" fill="none" stroke-linejoin="miter" stroke-linecap="butt"/><path d="M1810.36 37.93H1819.36M1810.36 110.79H1819.36M1810.36 183.64H1819.36M1855.04 256.27V247.27M1922.11 256.27V247.27M1989.07 256.27V247.27" stroke="#000" stroke-width="2.1" fill="none"/><text x="1806.36" y="43.47" transform="rotate(0.05 1806.36 43.47)" font-size="16.55" text-anchor="end">150</text><text x="1806.36" y="116.33" transform="rotate(0.05 1806.36 116.33)" font-size="16.55" text-anchor="end">100</text><text x="1806.36" y="189.19" transform="rotate(0.05 1806.36 189.19)" font-size="16.55" text-anchor="end">50</text><text x="1806.36" y="261.62" transform="rotate(0.05 1806.36 261.62)" font-size="16.55" text-anchor="end">0</text><text x="1854.34" y="274.39" transform="rotate(0.05 1854.34 274.39)" font-size="16.55" text-anchor="middle">Ethylene</text><text x="1921.41" y="274.39" transform="rotate(0.05 1921.41 274.39)" font-size="16.55" text-anchor="middle">CK</text><text x="1988.37" y="274.39" transform="rotate(0.05 1988.37 274.39)" font-size="16.55" text-anchor="middle">1-MCP</text><text transform="translate(1771.24 146.57) rotate(-89.95)" font-size="17.95" text-anchor="middle">Relative expression</text><text x="1941.71" y="305.43" transform="rotate(0.05 1941.71 305.43)" font-size="19" text-anchor="middle">Treat</text><text x="1922.5" y="57.86" transform="rotate(0.05 1922.5 57.86)" font-size="18" font-style="italic" text-anchor="middle">AtrGAL</text><text x="1898.54" y="85.31" transform="rotate(0.05 1898.54 85.31)" font-size="26.6" text-anchor="middle">***</text><path d="M1856.43 99.27V87.86H1942.79V99.27" stroke="#000" stroke-width="2.1" fill="none"/><rect x="1996.49" y="45.9" width="20.1" height="8.4" fill="#ff0000" stroke="#000" stroke-width="2.8"/><text x="2031.51" y="56.46" transform="rotate(0.05 2031.51 56.46)" font-size="18">Ethylene</text><rect x="1996.49" y="74.4" width="20.1" height="8.4" fill="#c4c400" stroke="#000" stroke-width="2.8"/><text x="2031.51" y="84.96" transform="rotate(0.05 2031.51 84.96)" font-size="18">CK</text><rect x="1996.49" y="102.9" width="20.1" height="8.4" fill="#0d9b62" stroke="#000" stroke-width="2.8"/><text x="2031.51" y="113.46" transform="rotate(0.05 2031.51 113.46)" font-size="18">1-MCP</text></g><g><rect x="2227.31" y="103.83" width="42.46" height="152.14" fill="#ff0000" stroke="#000" stroke-width="2.8"/><rect x="2294.16" y="254.26" width="42.46" height="1.71" fill="#c4c400" stroke="#000" stroke-width="2.8"/><path d="M2237.29 77.14H2259.79M2248.54 77.14V103.43" stroke="#000" stroke-width="1.25" fill="none"/><path d="M2304.14 251.79H2326.64M2315.39 251.79V253.86" stroke="#000" stroke-width="1.25" fill="none"/><path d="M2203.64 36.88V256.27H2427.79" stroke="#000" stroke-width="2.2" fill="none" stroke-linejoin="miter" stroke-linecap="butt"/><path d="M2203.64 37.93H2212.64M2203.64 81.43H2212.64M2203.64 124.93H2212.64M2203.64 168.86H2212.64M2203.64 212.57H2212.64M2248.54 256.27V247.27M2315.39 256.27V247.27M2382.36 256.27V247.27" stroke="#000" stroke-width="2.1" fill="none"/><text x="2199.64" y="43.47" transform="rotate(0.05 2199.64 43.47)" font-size="16.55" text-anchor="end">500</text><text x="2199.64" y="86.97" transform="rotate(0.05 2199.64 86.97)" font-size="16.55" text-anchor="end">400</text><text x="2199.64" y="130.47" transform="rotate(0.05 2199.64 130.47)" font-size="16.55" text-anchor="end">300</text><text x="2199.64" y="174.4" transform="rotate(0.05 2199.64 174.4)" font-size="16.55" text-anchor="end">200</text><text x="2199.64" y="218.12" transform="rotate(0.05 2199.64 218.12)" font-size="16.55" text-anchor="end">100</text><text x="2199.64" y="261.62" transform="rotate(0.05 2199.64 261.62)" font-size="16.55" text-anchor="end">0</text><text x="2247.84" y="274.39" transform="rotate(0.05 2247.84 274.39)" font-size="16.55" text-anchor="middle">Ethylene</text><text x="2314.69" y="274.39" transform="rotate(0.05 2314.69 274.39)" font-size="16.55" text-anchor="middle">CK</text><text x="2381.66" y="274.39" transform="rotate(0.05 2381.66 274.39)" font-size="16.55" text-anchor="middle">1-MCP</text><text transform="translate(2164.53 146.57) rotate(-89.95)" font-size="17.95" text-anchor="middle">Relative expression</text><text x="2325.36" y="306.5" transform="rotate(0.05 2325.36 306.5)" font-size="19" text-anchor="middle">Treat</text><text x="2315.89" y="28.93" transform="rotate(0.05 2315.89 28.93)" font-size="18" font-style="italic" text-anchor="middle">AtrGAL2</text><text x="2290.32" y="54.77" transform="rotate(0.05 2290.32 54.77)" font-size="26.6" text-anchor="middle">***</text><path d="M2251 68.63V57.21H2332.21V68.63" stroke="#000" stroke-width="2.1" fill="none"/><rect x="2389.77" y="45.9" width="20.1" height="8.4" fill="#ff0000" stroke="#000" stroke-width="2.8"/><text x="2424.8" y="56.46" transform="rotate(0.05 2424.8 56.46)" font-size="18">Ethylene</text><rect x="2389.77" y="74.4" width="20.1" height="8.4" fill="#c4c400" stroke="#000" stroke-width="2.8"/><text x="2424.8" y="84.96" transform="rotate(0.05 2424.8 84.96)" font-size="18">CK</text><rect x="2389.77" y="102.9" width="20.1" height="8.4" fill="#0d9b62" stroke="#000" stroke-width="2.8"/><text x="2424.8" y="113.46" transform="rotate(0.05 2424.8 113.46)" font-size="18">1-MCP</text></g><g><rect x="1440.16" y="394.97" width="42.03" height="213.43" fill="#ff0000" stroke="#000" stroke-width="2.8"/><rect x="1507.02" y="578.4" width="42.67" height="30" fill="#c4c400" stroke="#000" stroke-width="2.8"/><rect x="1574.52" y="603.47" width="42.46" height="4.93" fill="#0d9b62" stroke="#000" stroke-width="2.8"/><path d="M1449.93 378.14H1472.43M1461.18 378.14V394.57" stroke="#000" stroke-width="1.25" fill="none"/><path d="M1517.11 568.64H1539.61M1528.36 568.64V578" stroke="#000" stroke-width="1.25" fill="none"/><path d="M1584.5 601H1607M1595.75 601V603.07" stroke="#000" stroke-width="1.25" fill="none"/><path d="M1416.71 341.74V608.7H1640.64" stroke="#000" stroke-width="2.2" fill="none" stroke-linejoin="miter" stroke-linecap="butt"/><path d="M1416.71 342.79H1425.71M1416.71 409.21H1425.71M1416.71 475.64H1425.71M1416.71 542.07H1425.71M1461.18 608.7V599.7M1528.36 608.7V599.7M1595.75 608.7V599.7" stroke="#000" stroke-width="2.1" fill="none"/><text x="1412.71" y="348.33" transform="rotate(0.05 1412.71 348.33)" font-size="16.55" text-anchor="end">40</text><text x="1412.71" y="414.76" transform="rotate(0.05 1412.71 414.76)" font-size="16.55" text-anchor="end">30</text><text x="1412.71" y="481.19" transform="rotate(0.05 1412.71 481.19)" font-size="16.55" text-anchor="end">20</text><text x="1412.71" y="547.62" transform="rotate(0.05 1412.71 547.62)" font-size="16.55" text-anchor="end">10</text><text x="1412.71" y="614.04" transform="rotate(0.05 1412.71 614.04)" font-size="16.55" text-anchor="end">0</text><text x="1458.34" y="626.81" transform="rotate(0.05 1458.34 626.81)" font-size="16.55" text-anchor="middle">Ethylene</text><text x="1527.66" y="626.81" transform="rotate(0.05 1527.66 626.81)" font-size="16.55" text-anchor="middle">CK</text><text x="1595.05" y="626.81" transform="rotate(0.05 1595.05 626.81)" font-size="16.55" text-anchor="middle">1-MCP</text><text transform="translate(1386.6 475.86) rotate(-89.95)" font-size="17.95" text-anchor="middle">Relative expression</text><text x="1519.68" y="642" transform="rotate(0.05 1519.68 642)" font-size="19" text-anchor="middle">Treat</text><text x="1528.54" y="331.43" transform="rotate(0.05 1528.54 331.43)" font-size="18" font-style="italic" text-anchor="middle">AtrPE</text><text x="1515.18" y="356.31" transform="rotate(0.05 1515.18 356.31)" font-size="26.6" text-anchor="middle">***</text><path d="M1465.36 371.13V359.93H1565V371.13" stroke="#000" stroke-width="2.1" fill="none"/><rect x="1603.27" y="398.33" width="20.1" height="8.4" fill="#ff0000" stroke="#000" stroke-width="2.8"/><text x="1638.3" y="408.67" transform="rotate(0.05 1638.3 408.67)" font-size="18">Ethylene</text><rect x="1603.27" y="426.83" width="20.1" height="8.4" fill="#c4c400" stroke="#000" stroke-width="2.8"/><text x="1638.3" y="437.17" transform="rotate(0.05 1638.3 437.17)" font-size="18">CK</text><rect x="1603.27" y="455.33" width="20.1" height="8.4" fill="#0d9b62" stroke="#000" stroke-width="2.8"/><text x="1638.3" y="465.67" transform="rotate(0.05 1638.3 465.67)" font-size="18">1-MCP</text></g><g><rect x="1816.66" y="385.97" width="42.03" height="214.71" fill="#ff0000" stroke="#000" stroke-width="2.8"/><rect x="1883.52" y="552.04" width="42.24" height="48.64" fill="#c4c400" stroke="#000" stroke-width="2.8"/><rect x="1950.59" y="559.54" width="42.46" height="41.14" fill="#0d9b62" stroke="#000" stroke-width="2.8"/><path d="M1826.43 378.57H1848.93M1837.68 378.57V385.57" stroke="#000" stroke-width="1.25" fill="none"/><path d="M1893.39 547.43H1915.89M1904.64 547.43V551.64" stroke="#000" stroke-width="1.25" fill="none"/><path d="M1960.57 555.57H1983.07M1971.82 555.57V559.14" stroke="#000" stroke-width="1.25" fill="none"/><path d="M1793.21 341.09V600.99H2017.14" stroke="#000" stroke-width="2.2" fill="none" stroke-linejoin="miter" stroke-linecap="butt"/><path d="M1793.21 342.14H1802.21M1793.21 428.29H1802.21M1793.21 514.64H1802.21M1837.68 600.99V591.99M1904.64 600.99V591.99M1971.82 600.99V591.99" stroke="#000" stroke-width="2.1" fill="none"/><text x="1789.21" y="347.69" transform="rotate(0.05 1789.21 347.69)" font-size="16.55" text-anchor="end">6</text><text x="1789.21" y="433.83" transform="rotate(0.05 1789.21 433.83)" font-size="16.55" text-anchor="end">4</text><text x="1789.21" y="520.19" transform="rotate(0.05 1789.21 520.19)" font-size="16.55" text-anchor="end">2</text><text x="1789.21" y="606.33" transform="rotate(0.05 1789.21 606.33)" font-size="16.55" text-anchor="end">0</text><text x="1836.98" y="618.67" transform="rotate(0.05 1836.98 618.67)" font-size="16.55" text-anchor="middle">Ethylene</text><text x="1903.94" y="618.67" transform="rotate(0.05 1903.94 618.67)" font-size="16.55" text-anchor="middle">CK</text><text x="1971.12" y="618.67" transform="rotate(0.05 1971.12 618.67)" font-size="16.55" text-anchor="middle">1-MCP</text><text transform="translate(1771.24 471.25) rotate(-89.95)" font-size="17.95" text-anchor="middle">Relative expression</text><text x="1909.46" y="644.36" transform="rotate(0.05 1909.46 644.36)" font-size="19" text-anchor="middle">Treat</text><text x="1904.61" y="330.36" transform="rotate(0.05 1904.61 330.36)" font-size="18" font-style="italic" text-anchor="middle">AtrPE2</text><text x="1892" y="360.06" transform="rotate(0.05 1892 360.06)" font-size="26.6" text-anchor="middle">***</text><path d="M1839.29 373.91V362.5H1946.86V373.91" stroke="#000" stroke-width="2.1" fill="none"/><rect x="2003.34" y="391.69" width="20.1" height="8.4" fill="#ff0000" stroke="#000" stroke-width="2.8"/><text x="2038.37" y="402.24" transform="rotate(0.05 2038.37 402.24)" font-size="18">Ethylene</text><rect x="2003.34" y="420.19" width="20.1" height="8.4" fill="#c4c400" stroke="#000" stroke-width="2.8"/><text x="2038.37" y="430.74" transform="rotate(0.05 2038.37 430.74)" font-size="18">CK</text><rect x="2003.34" y="448.69" width="20.1" height="8.4" fill="#0d9b62" stroke="#000" stroke-width="2.8"/><text x="2038.37" y="459.24" transform="rotate(0.05 2038.37 459.24)" font-size="18">1-MCP</text></g><g><rect x="2215.52" y="457.83" width="36.03" height="150" fill="#ff0000" stroke="#000" stroke-width="2.8"/><rect x="2273.16" y="580.19" width="35.81" height="27.64" fill="#c4c400" stroke="#000" stroke-width="2.8"/><rect x="2330.16" y="594.97" width="36.03" height="12.86" fill="#0d9b62" stroke="#000" stroke-width="2.8"/><path d="M2224.04 442.5H2243.04M2233.54 442.5V457.43" stroke="#000" stroke-width="1.25" fill="none"/><path d="M2281.57 574.93H2300.57M2291.07 574.93V579.79" stroke="#000" stroke-width="1.25" fill="none"/><path d="M2338.68 591.43H2357.68M2348.18 591.43V594.57" stroke="#000" stroke-width="1.25" fill="none"/><path d="M2196.14 383.59V608.13H2387.5" stroke="#000" stroke-width="2.2" fill="none" stroke-linejoin="miter" stroke-linecap="butt"/><path d="M2196.14 384.64H2205.14M2196.14 459.21H2205.14M2196.14 533.57H2205.14M2233.54 608.13V599.13M2291.07 608.13V599.13M2348.18 608.13V599.13" stroke="#000" stroke-width="2.1" fill="none"/><text x="2192.14" y="390.19" transform="rotate(0.05 2192.14 390.19)" font-size="16.55" text-anchor="end">15</text><text x="2192.14" y="464.76" transform="rotate(0.05 2192.14 464.76)" font-size="16.55" text-anchor="end">10</text><text x="2192.14" y="539.12" transform="rotate(0.05 2192.14 539.12)" font-size="16.55" text-anchor="end">5</text><text x="2192.14" y="613.47" transform="rotate(0.05 2192.14 613.47)" font-size="16.55" text-anchor="end">0</text><text x="2232.84" y="626.89" transform="rotate(0.05 2232.84 626.89)" font-size="16.55" text-anchor="middle">Ethylene</text><text x="2290.37" y="626.89" transform="rotate(0.05 2290.37 626.89)" font-size="16.55" text-anchor="middle">CK</text><text x="2347.48" y="626.89" transform="rotate(0.05 2347.48 626.89)" font-size="16.55" text-anchor="middle">1-MCP</text><text transform="translate(2165.17 496.07) rotate(-89.95)" font-size="17.95" text-anchor="middle">Relative expression</text><text x="2292.68" y="642.93" transform="rotate(0.05 2292.68 642.93)" font-size="19" text-anchor="middle">Treat</text><text x="2290.82" y="388.29" transform="rotate(0.05 2290.82 388.29)" font-size="18" font-style="italic" text-anchor="middle">AtrPE5</text><text x="2289.57" y="418.63" transform="rotate(0.05 2289.57 418.63)" font-size="26.6" text-anchor="middle">***</text><path d="M2240.71 432.49V421.71H2340.79V432.49" stroke="#000" stroke-width="2.1" fill="none"/><rect x="2385.91" y="393.69" width="20.31" height="8.4" fill="#ff0000" stroke="#000" stroke-width="2.8"/><text x="2421.59" y="404.03" transform="rotate(0.05 2421.59 404.03)" font-size="18">Ethylene</text><rect x="2385.91" y="422.19" width="20.31" height="8.4" fill="#c4c400" stroke="#000" stroke-width="2.8"/><text x="2421.59" y="432.53" transform="rotate(0.05 2421.59 432.53)" font-size="18">CK</text><rect x="2385.91" y="450.69" width="20.31" height="8.4" fill="#0d9b62" stroke="#000" stroke-width="2.8"/><text x="2421.59" y="461.03" transform="rotate(0.05 2421.59 461.03)" font-size="18">1-MCP</text></g><g><rect x="1440.16" y="730.54" width="42.03" height="175.71" fill="#ff0000" stroke="#000" stroke-width="2.8"/><rect x="1507.02" y="856.33" width="42.67" height="49.93" fill="#c4c400" stroke="#000" stroke-width="2.8"/><rect x="1574.52" y="885.9" width="42.46" height="20.36" fill="#0d9b62" stroke="#000" stroke-width="2.8"/><path d="M1449.93 709.21H1472.43M1461.18 709.21V730.14" stroke="#000" stroke-width="1.25" fill="none"/><path d="M1517.11 842.93H1539.61M1528.36 842.93V855.93" stroke="#000" stroke-width="1.25" fill="none"/><path d="M1584.5 878.5H1607M1595.75 878.5V885.5" stroke="#000" stroke-width="1.25" fill="none"/><path d="M1416.71 686.74V906.56H1640.64" stroke="#000" stroke-width="2.2" fill="none" stroke-linejoin="miter" stroke-linecap="butt"/><path d="M1416.71 687.79H1425.71M1416.71 731.71H1425.71M1416.71 775.43H1425.71M1416.71 818.93H1425.71M1416.71 862.86H1425.71M1461.18 906.56V897.56M1528.36 906.56V897.56M1595.75 906.56V897.56" stroke="#000" stroke-width="2.1" fill="none"/><text x="1412.71" y="693.33" transform="rotate(0.05 1412.71 693.33)" font-size="16.55" text-anchor="end">10</text><text x="1412.71" y="737.26" transform="rotate(0.05 1412.71 737.26)" font-size="16.55" text-anchor="end">8</text><text x="1412.71" y="780.97" transform="rotate(0.05 1412.71 780.97)" font-size="16.55" text-anchor="end">6</text><text x="1412.71" y="824.47" transform="rotate(0.05 1412.71 824.47)" font-size="16.55" text-anchor="end">4</text><text x="1412.71" y="868.4" transform="rotate(0.05 1412.71 868.4)" font-size="16.55" text-anchor="end">2</text><text x="1412.71" y="911.9" transform="rotate(0.05 1412.71 911.9)" font-size="16.55" text-anchor="end">0</text><text x="1460.48" y="925.1" transform="rotate(0.05 1460.48 925.1)" font-size="16.55" text-anchor="middle">Ethylene</text><text x="1527.66" y="925.1" transform="rotate(0.05 1527.66 925.1)" font-size="16.55" text-anchor="middle">CK</text><text x="1595.05" y="925.1" transform="rotate(0.05 1595.05 925.1)" font-size="16.55" text-anchor="middle">1-MCP</text><text transform="translate(1386.6 796.96) rotate(-89.95)" font-size="17.95" text-anchor="middle">Relative expression</text><text x="1531.36" y="950.14" transform="rotate(0.05 1531.36 950.14)" font-size="19" text-anchor="middle">Treat</text><text x="1529.07" y="660.36" transform="rotate(0.05 1529.07 660.36)" font-size="18" font-style="italic" text-anchor="middle">AtrPG</text><text x="1500.71" y="687.91" transform="rotate(0.05 1500.71 687.91)" font-size="26.6" text-anchor="middle">***</text><path d="M1468.57 702.41V691.43H1534.57V702.41" stroke="#000" stroke-width="2.1" fill="none"/><rect x="1603.27" y="695.97" width="20.1" height="8.4" fill="#ff0000" stroke="#000" stroke-width="2.8"/><text x="1638.3" y="706.53" transform="rotate(0.05 1638.3 706.53)" font-size="18">Ethylene</text><rect x="1603.27" y="724.47" width="20.1" height="8.4" fill="#c4c400" stroke="#000" stroke-width="2.8"/><text x="1638.3" y="735.03" transform="rotate(0.05 1638.3 735.03)" font-size="18">CK</text><rect x="1603.27" y="752.97" width="20.1" height="8.4" fill="#0d9b62" stroke="#000" stroke-width="2.8"/><text x="1638.3" y="763.53" transform="rotate(0.05 1638.3 763.53)" font-size="18">1-MCP</text></g><g><rect x="1812.38" y="745.97" width="42.46" height="160.29" fill="#ff0000" stroke="#000" stroke-width="2.8"/><rect x="1879.45" y="847.76" width="42.46" height="58.5" fill="#c4c400" stroke="#000" stroke-width="2.8"/><rect x="1946.74" y="820.33" width="42.24" height="85.93" fill="#0d9b62" stroke="#000" stroke-width="2.8"/><path d="M1822.36 726.79H1844.86M1833.61 726.79V745.57" stroke="#000" stroke-width="1.25" fill="none"/><path d="M1889.43 838.64H1911.93M1900.68 838.64V847.36" stroke="#000" stroke-width="1.25" fill="none"/><path d="M1956.61 811H1979.11M1967.86 811V819.93" stroke="#000" stroke-width="1.25" fill="none"/><path d="M1788.93 686.74V906.56H2013.29" stroke="#000" stroke-width="2.2" fill="none" stroke-linejoin="miter" stroke-linecap="butt"/><path d="M1788.93 687.79H1797.93M1788.93 731.71H1797.93M1788.93 775.43H1797.93M1788.93 818.93H1797.93M1788.93 862.86H1797.93M1833.61 906.56V897.56M1900.68 906.56V897.56M1967.86 906.56V897.56" stroke="#000" stroke-width="2.1" fill="none"/><text x="1784.93" y="693.33" transform="rotate(0.05 1784.93 693.33)" font-size="16.55" text-anchor="end">2.5</text><text x="1784.93" y="737.26" transform="rotate(0.05 1784.93 737.26)" font-size="16.55" text-anchor="end">2.0</text><text x="1784.93" y="780.97" transform="rotate(0.05 1784.93 780.97)" font-size="16.55" text-anchor="end">1.5</text><text x="1784.93" y="824.47" transform="rotate(0.05 1784.93 824.47)" font-size="16.55" text-anchor="end">1.0</text><text x="1784.93" y="868.4" transform="rotate(0.05 1784.93 868.4)" font-size="16.55" text-anchor="end">0.5</text><text x="1784.93" y="911.9" transform="rotate(0.05 1784.93 911.9)" font-size="16.55" text-anchor="end">0.0</text><text x="1832.91" y="925.1" transform="rotate(0.05 1832.91 925.1)" font-size="16.55" text-anchor="middle">Ethylene</text><text x="1899.98" y="925.1" transform="rotate(0.05 1899.98 925.1)" font-size="16.55" text-anchor="middle">CK</text><text x="1967.16" y="925.1" transform="rotate(0.05 1967.16 925.1)" font-size="16.55" text-anchor="middle">1-MCP</text><text transform="translate(1754.1 796.96) rotate(-89.95)" font-size="17.95" text-anchor="middle">Relative expression</text><text x="1906.14" y="948.43" transform="rotate(0.05 1906.14 948.43)" font-size="19" text-anchor="middle">Treat</text><text x="1901.07" y="675.79" transform="rotate(0.05 1901.07 675.79)" font-size="18" font-style="italic" text-anchor="middle">AtrPG2</text><text x="1886.64" y="704.95" transform="rotate(0.05 1886.64 704.95)" font-size="26.6" text-anchor="middle">***</text><path d="M1836.5 718.49V707.5H1938.93V718.49" stroke="#000" stroke-width="2.1" fill="none"/><rect x="1975.91" y="695.97" width="20.1" height="8.4" fill="#ff0000" stroke="#000" stroke-width="2.8"/><text x="2010.94" y="706.53" transform="rotate(0.05 2010.94 706.53)" font-size="18">Ethylene</text><rect x="1975.91" y="724.47" width="20.1" height="8.4" fill="#c4c400" stroke="#000" stroke-width="2.8"/><text x="2010.94" y="735.03" transform="rotate(0.05 2010.94 735.03)" font-size="18">CK</text><rect x="1975.91" y="752.97" width="20.1" height="8.4" fill="#0d9b62" stroke="#000" stroke-width="2.8"/><text x="2010.94" y="763.53" transform="rotate(0.05 2010.94 763.53)" font-size="18">1-MCP</text></g><g><rect x="2218.16" y="706.97" width="38.39" height="202.5" fill="#ff0000" stroke="#000" stroke-width="2.8"/><rect x="2278.81" y="907.76" width="37.74" height="1.71" fill="#c4c400" stroke="#000" stroke-width="2.8"/><rect x="2338.05" y="907.64" width="40.97" height="2.13" fill="#000"/><path d="M2227.51 699.57H2247.21M2237.36 699.57V706.57" stroke="#000" stroke-width="1.25" fill="none"/><path d="M2287.83 905.71H2307.53M2297.68 905.71V907.36" stroke="#000" stroke-width="1.25" fill="none"/><path d="M2197.07 680.74V909.77H2399.36" stroke="#000" stroke-width="2.2" fill="none" stroke-linejoin="miter" stroke-linecap="butt"/><path d="M2197.07 681.79H2205.22M2197.07 757.86H2205.22M2197.07 833.93H2205.22M2237.36 909.77V901.63M2297.68 909.77V901.63M2358.54 909.77V901.63" stroke="#000" stroke-width="2.1" fill="none"/><text x="2193.45" y="686.8" transform="rotate(0.05 2193.45 686.8)" font-size="14.98" text-anchor="end">150</text><text x="2193.45" y="762.87" transform="rotate(0.05 2193.45 762.87)" font-size="14.98" text-anchor="end">100</text><text x="2193.45" y="838.95" transform="rotate(0.05 2193.45 838.95)" font-size="14.98" text-anchor="end">50</text><text x="2193.45" y="914.59" transform="rotate(0.05 2193.45 914.59)" font-size="14.98" text-anchor="end">0</text><text x="2236.66" y="926.17" transform="rotate(0.05 2236.66 926.17)" font-size="14.98" text-anchor="middle">Ethylene</text><text x="2296.98" y="926.17" transform="rotate(0.05 2296.98 926.17)" font-size="14.98" text-anchor="middle">CK</text><text x="2357.84" y="926.17" transform="rotate(0.05 2357.84 926.17)" font-size="14.98" text-anchor="middle">1-MCP</text><text transform="translate(2161.6 796.21) rotate(-89.95)" font-size="16.24" text-anchor="middle">Relative expression</text><text x="2299.29" y="949.07" transform="rotate(0.05 2299.29 949.07)" font-size="19" text-anchor="middle">Treat</text><text x="2298.5" y="661.43" transform="rotate(0.05 2298.5 661.43)" font-size="16.29" font-style="italic" text-anchor="middle">AtrPL</text><text x="2281.07" y="682.13" transform="rotate(0.05 2281.07 682.13)" font-size="22.88" text-anchor="middle">***</text><path d="M2235 695.34V685H2329.29V695.34" stroke="#000" stroke-width="2.1" fill="none"/><rect x="2365.41" y="719.54" width="17.96" height="7.34" fill="#ff0000" stroke="#000" stroke-width="2.8"/><text x="2397.01" y="728.6" transform="rotate(0.05 2397.01 728.6)" font-size="16.29">Ethylene</text><rect x="2365.41" y="745.36" width="17.96" height="7.34" fill="#c4c400" stroke="#000" stroke-width="2.8"/><text x="2397.01" y="754.42" transform="rotate(0.05 2397.01 754.42)" font-size="16.29">CK</text><rect x="2365.41" y="771.19" width="17.96" height="7.34" fill="#0d9b62" stroke="#000" stroke-width="2.8"/><text x="2397.01" y="780.24" transform="rotate(0.05 2397.01 780.24)" font-size="16.29">1-MCP</text></g><clipPath id="lc23"><rect x="1602.21" y="998.57" width="107.64" height="120"/></clipPath><g><rect x="1434.59" y="1031.76" width="42.24" height="196.29" fill="#ff0000" stroke="#000" stroke-width="2.8"/><rect x="1501.66" y="1214.11" width="42.46" height="13.93" fill="#c4c400" stroke="#000" stroke-width="2.8"/><rect x="1568.74" y="1207.04" width="42.46" height="21" fill="#0d9b62" stroke="#000" stroke-width="2.8"/><path d="M1444.46 1020.29H1466.96M1455.71 1020.29V1031.36" stroke="#000" stroke-width="1.25" fill="none"/><path d="M1511.64 1211H1534.14M1522.89 1211V1213.71" stroke="#000" stroke-width="1.25" fill="none"/><path d="M1578.71 1202.86H1601.21M1589.96 1202.86V1206.64" stroke="#000" stroke-width="1.25" fill="none"/><path d="M1411.14 993.95V1228.34H1635.29" stroke="#000" stroke-width="2.2" fill="none" stroke-linejoin="miter" stroke-linecap="butt"/><path d="M1411.14 995H1420.14M1411.14 1041.71H1420.14M1411.14 1088.64H1420.14M1411.14 1134.93H1420.14M1411.14 1181.86H1420.14M1455.71 1228.34V1219.34M1522.89 1228.34V1219.34M1589.96 1228.34V1219.34" stroke="#000" stroke-width="2.1" fill="none"/><text x="1407.14" y="1000.54" transform="rotate(0.05 1407.14 1000.54)" font-size="16.55" text-anchor="end">10</text><text x="1407.14" y="1047.26" transform="rotate(0.05 1407.14 1047.26)" font-size="16.55" text-anchor="end">8</text><text x="1407.14" y="1094.19" transform="rotate(0.05 1407.14 1094.19)" font-size="16.55" text-anchor="end">6</text><text x="1407.14" y="1140.47" transform="rotate(0.05 1407.14 1140.47)" font-size="16.55" text-anchor="end">4</text><text x="1407.14" y="1187.4" transform="rotate(0.05 1407.14 1187.4)" font-size="16.55" text-anchor="end">2</text><text x="1407.14" y="1233.69" transform="rotate(0.05 1407.14 1233.69)" font-size="16.55" text-anchor="end">0</text><text x="1455.01" y="1246.89" transform="rotate(0.05 1455.01 1246.89)" font-size="16.55" text-anchor="middle">Ethylene</text><text x="1522.19" y="1246.89" transform="rotate(0.05 1522.19 1246.89)" font-size="16.55" text-anchor="middle">CK</text><text x="1589.26" y="1246.89" transform="rotate(0.05 1589.26 1246.89)" font-size="16.55" text-anchor="middle">1-MCP</text><text transform="translate(1381.24 1111.25) rotate(-89.95)" font-size="17.95" text-anchor="middle">Relative expression</text><text x="1520.54" y="1266.57" transform="rotate(0.05 1520.54 1266.57)" font-size="19" text-anchor="middle">Treat</text><text x="1523.39" y="973.14" transform="rotate(0.05 1523.39 973.14)" font-size="18" font-style="italic" text-anchor="middle">AtrPL2</text><text x="1510.57" y="1001.13" transform="rotate(0.05 1510.57 1001.13)" font-size="26.6" text-anchor="middle">***</text><path d="M1452.93 1014.99V1003.57H1569.71V1014.99" stroke="#000" stroke-width="2.1" fill="none"/><rect x="1608.41" y="1019.47" width="20.1" height="8.4" fill="#ff0000" stroke="#000" stroke-width="2.8"/><text x="1643.44" y="1030.03" transform="rotate(0.05 1643.44 1030.03)" font-size="18" clip-path="url(#lc23)">Ethylene</text><rect x="1608.41" y="1047.97" width="20.1" height="8.4" fill="#c4c400" stroke="#000" stroke-width="2.8"/><text x="1643.44" y="1058.53" transform="rotate(0.05 1643.44 1058.53)" font-size="18" clip-path="url(#lc23)">CK</text><rect x="1608.41" y="1076.47" width="20.1" height="8.4" fill="#0d9b62" stroke="#000" stroke-width="2.8"/><text x="1643.44" y="1087.03" transform="rotate(0.05 1643.44 1087.03)" font-size="18" clip-path="url(#lc23)">1-MCP</text></g><g><rect x="1804.88" y="1032.4" width="42.03" height="195.64" fill="#ff0000" stroke="#000" stroke-width="2.8"/><rect x="1871.74" y="1222.04" width="42.24" height="6" fill="#c4c400" stroke="#000" stroke-width="2.8"/><path d="M1814.64 1025.43H1837.14M1825.89 1025.43V1032" stroke="#000" stroke-width="1.25" fill="none"/><path d="M1881.61 1220H1904.11M1892.86 1220V1221.64" stroke="#000" stroke-width="1.25" fill="none"/><path d="M1781.43 982.16V1228.34H2005.36" stroke="#000" stroke-width="2.2" fill="none" stroke-linejoin="miter" stroke-linecap="butt"/><path d="M1781.43 983.21H1790.43M1781.43 1032.5H1790.43M1781.43 1081.36H1790.43M1781.43 1130.43H1790.43M1781.43 1179.29H1790.43M1825.89 1228.34V1219.34M1892.86 1228.34V1219.34M1959.93 1228.34V1219.34" stroke="#000" stroke-width="2.1" fill="none"/><text x="1777.43" y="988.76" transform="rotate(0.05 1777.43 988.76)" font-size="16.55" text-anchor="end">250</text><text x="1777.43" y="1038.04" transform="rotate(0.05 1777.43 1038.04)" font-size="16.55" text-anchor="end">200</text><text x="1777.43" y="1086.9" transform="rotate(0.05 1777.43 1086.9)" font-size="16.55" text-anchor="end">150</text><text x="1777.43" y="1135.97" transform="rotate(0.05 1777.43 1135.97)" font-size="16.55" text-anchor="end">100</text><text x="1777.43" y="1184.83" transform="rotate(0.05 1777.43 1184.83)" font-size="16.55" text-anchor="end">50</text><text x="1777.43" y="1233.69" transform="rotate(0.05 1777.43 1233.69)" font-size="16.55" text-anchor="end">0</text><text x="1825.19" y="1246.89" transform="rotate(0.05 1825.19 1246.89)" font-size="16.55" text-anchor="middle">Ethylene</text><text x="1892.16" y="1246.89" transform="rotate(0.05 1892.16 1246.89)" font-size="16.55" text-anchor="middle">CK</text><text x="1959.23" y="1246.89" transform="rotate(0.05 1959.23 1246.89)" font-size="16.55" text-anchor="middle">1-MCP</text><text transform="translate(1742.32 1106.11) rotate(-89.95)" font-size="17.95" text-anchor="middle">Relative expression</text><text x="1906.79" y="1270.21" transform="rotate(0.05 1906.79 1270.21)" font-size="19" text-anchor="middle">Treat</text><text x="1893.36" y="982.14" transform="rotate(0.05 1893.36 982.14)" font-size="18" font-style="italic" text-anchor="middle">AtrXTH</text><text x="1869.5" y="1007.45" transform="rotate(0.05 1869.5 1007.45)" font-size="26.6" text-anchor="middle">***</text><path d="M1826.86 1021.41V1010H1913.64V1021.41" stroke="#000" stroke-width="2.1" fill="none"/><rect x="1967.34" y="1017.97" width="20.1" height="8.4" fill="#ff0000" stroke="#000" stroke-width="2.8"/><text x="2002.37" y="1028.31" transform="rotate(0.05 2002.37 1028.31)" font-size="18">Ethylene</text><rect x="1967.34" y="1046.47" width="20.1" height="8.4" fill="#c4c400" stroke="#000" stroke-width="2.8"/><text x="2002.37" y="1056.81" transform="rotate(0.05 2002.37 1056.81)" font-size="18">CK</text><rect x="1967.34" y="1074.97" width="20.1" height="8.4" fill="#0d9b62" stroke="#000" stroke-width="2.8"/><text x="2002.37" y="1085.31" transform="rotate(0.05 2002.37 1085.31)" font-size="18">1-MCP</text></g><g><rect x="2216.02" y="1028.76" width="39.46" height="199.29" fill="#ff0000" stroke="#000" stroke-width="2.8"/><rect x="2278.81" y="1217.33" width="39.89" height="10.71" fill="#c4c400" stroke="#000" stroke-width="2.8"/><rect x="2340.19" y="1226.21" width="42.47" height="2.13" fill="#000"/><path d="M2225.55 1017.93H2245.95M2235.75 1017.93V1028.36" stroke="#000" stroke-width="1.25" fill="none"/><path d="M2288.55 1211.43H2308.95M2298.75 1211.43V1216.93" stroke="#000" stroke-width="1.25" fill="none"/><path d="M2194.29 990.74V1228.34H2404.29" stroke="#000" stroke-width="2.2" fill="none" stroke-linejoin="miter" stroke-linecap="butt"/><path d="M2194.29 991.79H2203.29M2194.29 1071.07H2203.29M2194.29 1149.71H2203.29M2235.75 1228.34V1219.34M2298.75 1228.34V1219.34M2361.43 1228.34V1219.34" stroke="#000" stroke-width="2.1" fill="none"/><text x="2190.29" y="997.33" transform="rotate(0.05 2190.29 997.33)" font-size="16.55" text-anchor="end">150</text><text x="2190.29" y="1076.62" transform="rotate(0.05 2190.29 1076.62)" font-size="16.55" text-anchor="end">100</text><text x="2190.29" y="1155.26" transform="rotate(0.05 2190.29 1155.26)" font-size="16.55" text-anchor="end">50</text><text x="2190.29" y="1233.69" transform="rotate(0.05 2190.29 1233.69)" font-size="16.55" text-anchor="end">0</text><text x="2235.05" y="1246.89" transform="rotate(0.05 2235.05 1246.89)" font-size="16.55" text-anchor="middle">Ethylene</text><text x="2298.05" y="1246.89" transform="rotate(0.05 2298.05 1246.89)" font-size="16.55" text-anchor="middle">CK</text><text x="2360.73" y="1246.89" transform="rotate(0.05 2360.73 1246.89)" font-size="16.55" text-anchor="middle">1-MCP</text><text transform="translate(2155.17 1110.39) rotate(-89.95)" font-size="17.95" text-anchor="middle">Relative expression</text><text x="2298.21" y="1272.57" transform="rotate(0.05 2298.21 1272.57)" font-size="19" text-anchor="middle">Treat</text><text x="2298.93" y="973.14" transform="rotate(0.05 2298.93 973.14)" font-size="18" font-style="italic" text-anchor="middle">AtrXTH2</text><text x="2284.61" y="998.99" transform="rotate(0.05 2284.61 998.99)" font-size="26.6" text-anchor="middle">***</text><path d="M2235 1012.84V1001.43H2335.71V1012.84" stroke="#000" stroke-width="2.1" fill="none"/><rect x="2379.77" y="1018.4" width="20.1" height="8.4" fill="#ff0000" stroke="#000" stroke-width="2.8"/><text x="2415.23" y="1028.74" transform="rotate(0.05 2415.23 1028.74)" font-size="18">Ethylene</text><rect x="2379.77" y="1046.9" width="20.1" height="8.4" fill="#c4c400" stroke="#000" stroke-width="2.8"/><text x="2415.23" y="1057.24" transform="rotate(0.05 2415.23 1057.24)" font-size="18">CK</text><rect x="2379.77" y="1075.4" width="20.1" height="8.4" fill="#0d9b62" stroke="#000" stroke-width="2.8"/><text x="2415.23" y="1085.74" transform="rotate(0.05 2415.23 1085.74)" font-size="18">1-MCP</text></g><g><rect x="1425.16" y="1368.11" width="39.67" height="184.93" fill="#ff0000" stroke="#000" stroke-width="2.8"/><rect x="1488.81" y="1529.26" width="39.89" height="23.79" fill="#c4c400" stroke="#000" stroke-width="2.8"/><rect x="1553.09" y="1491.33" width="39.89" height="61.71" fill="#0d9b62" stroke="#000" stroke-width="2.8"/><path d="M1434.7 1347.43H1455.3M1445 1347.43V1367.71" stroke="#000" stroke-width="1.25" fill="none"/><path d="M1498.45 1519.29H1519.05M1508.75 1519.29V1528.86" stroke="#000" stroke-width="1.25" fill="none"/><path d="M1562.74 1479.64H1583.34M1573.04 1479.64V1490.93" stroke="#000" stroke-width="1.25" fill="none"/><path d="M1402.79 1299.66V1553.34H1616.43" stroke="#000" stroke-width="2.2" fill="none" stroke-linejoin="miter" stroke-linecap="butt"/><path d="M1402.79 1300.71H1411.79M1402.79 1363.5H1411.79M1402.79 1427.14H1411.79M1402.79 1489.93H1411.79M1445 1553.34V1544.34M1508.75 1553.34V1544.34M1573.04 1553.34V1544.34" stroke="#000" stroke-width="2.1" fill="none"/><text x="1398.79" y="1306.26" transform="rotate(0.05 1398.79 1306.26)" font-size="16.55" text-anchor="end">4</text><text x="1398.79" y="1369.04" transform="rotate(0.05 1398.79 1369.04)" font-size="16.55" text-anchor="end">3</text><text x="1398.79" y="1432.69" transform="rotate(0.05 1398.79 1432.69)" font-size="16.55" text-anchor="end">2</text><text x="1398.79" y="1495.47" transform="rotate(0.05 1398.79 1495.47)" font-size="16.55" text-anchor="end">1</text><text x="1398.79" y="1558.69" transform="rotate(0.05 1398.79 1558.69)" font-size="16.55" text-anchor="end">0</text><text x="1444.3" y="1571.89" transform="rotate(0.05 1444.3 1571.89)" font-size="16.55" text-anchor="middle">Ethylene</text><text x="1508.05" y="1571.89" transform="rotate(0.05 1508.05 1571.89)" font-size="16.55" text-anchor="middle">CK</text><text x="1572.34" y="1571.89" transform="rotate(0.05 1572.34 1571.89)" font-size="16.55" text-anchor="middle">1-MCP</text><text transform="translate(1381.24 1426.61) rotate(-89.95)" font-size="17.95" text-anchor="middle">Relative expression</text><text x="1521.39" y="1594.79" transform="rotate(0.05 1521.39 1594.79)" font-size="19" text-anchor="middle">Treat</text><text x="1509.04" y="1295.79" transform="rotate(0.05 1509.04 1295.79)" font-size="18" font-style="italic" text-anchor="middle">AtrNAC</text><text x="1497.5" y="1326.56" transform="rotate(0.05 1497.5 1326.56)" font-size="26.6" text-anchor="middle">***</text><path d="M1442.43 1340.63V1329.21H1554.93V1340.63" stroke="#000" stroke-width="2.1" fill="none"/><rect x="1589.34" y="1342.33" width="20.1" height="8.4" fill="#ff0000" stroke="#000" stroke-width="2.8"/><text x="1624.37" y="1352.89" transform="rotate(0.05 1624.37 1352.89)" font-size="18">Ethylene</text><rect x="1589.34" y="1370.83" width="20.1" height="8.4" fill="#c4c400" stroke="#000" stroke-width="2.8"/><text x="1624.37" y="1381.39" transform="rotate(0.05 1624.37 1381.39)" font-size="18">CK</text><rect x="1589.34" y="1399.33" width="20.1" height="8.4" fill="#0d9b62" stroke="#000" stroke-width="2.8"/><text x="1624.37" y="1409.89" transform="rotate(0.05 1624.37 1409.89)" font-size="18">1-MCP</text></g><g><rect x="1798.88" y="1354.61" width="42.24" height="198.43" fill="#ff0000" stroke="#000" stroke-width="2.8"/><rect x="1865.52" y="1460.69" width="42.46" height="92.36" fill="#c4c400" stroke="#000" stroke-width="2.8"/><rect x="1932.81" y="1480.19" width="42.24" height="72.86" fill="#0d9b62" stroke="#000" stroke-width="2.8"/><path d="M1808.75 1349.36H1831.25M1820 1349.36V1354.21" stroke="#000" stroke-width="1.25" fill="none"/><path d="M1875.5 1454.36H1898M1886.75 1454.36V1460.29" stroke="#000" stroke-width="1.25" fill="none"/><path d="M1942.68 1474.71H1965.18M1953.93 1474.71V1479.79" stroke="#000" stroke-width="1.25" fill="none"/><path d="M1775 1332.88V1553.34H1999.36" stroke="#000" stroke-width="2.2" fill="none" stroke-linejoin="miter" stroke-linecap="butt"/><path d="M1775 1333.93H1784M1775 1377.86H1784M1775 1421.79H1784M1775 1465.29H1784M1775 1509.21H1784M1820 1553.34V1544.34M1886.75 1553.34V1544.34M1953.93 1553.34V1544.34" stroke="#000" stroke-width="2.1" fill="none"/><text x="1771" y="1339.47" transform="rotate(0.05 1771 1339.47)" font-size="16.55" text-anchor="end">2.5</text><text x="1771" y="1383.4" transform="rotate(0.05 1771 1383.4)" font-size="16.55" text-anchor="end">2.0</text><text x="1771" y="1427.33" transform="rotate(0.05 1771 1427.33)" font-size="16.55" text-anchor="end">1.5</text><text x="1771" y="1470.83" transform="rotate(0.05 1771 1470.83)" font-size="16.55" text-anchor="end">1.0</text><text x="1771" y="1514.76" transform="rotate(0.05 1771 1514.76)" font-size="16.55" text-anchor="end">0.5</text><text x="1771" y="1558.69" transform="rotate(0.05 1771 1558.69)" font-size="16.55" text-anchor="end">0.0</text><text x="1819.3" y="1571.89" transform="rotate(0.05 1819.3 1571.89)" font-size="16.55" text-anchor="middle">Ethylene</text><text x="1886.05" y="1571.89" transform="rotate(0.05 1886.05 1571.89)" font-size="16.55" text-anchor="middle">CK</text><text x="1953.23" y="1571.89" transform="rotate(0.05 1953.23 1571.89)" font-size="16.55" text-anchor="middle">1-MCP</text><text transform="translate(1740.82 1443.54) rotate(-89.95)" font-size="17.95" text-anchor="middle">Relative expression</text><text x="1906.14" y="1594.79" transform="rotate(0.05 1906.14 1594.79)" font-size="19" text-anchor="middle">Treat</text><text x="1887.14" y="1300.71" transform="rotate(0.05 1887.14 1300.71)" font-size="18" font-style="italic" text-anchor="middle">AtrNCED</text><text x="1878.93" y="1330.84" transform="rotate(0.05 1878.93 1330.84)" font-size="26.6" text-anchor="middle">***</text><path d="M1833.29 1344.27V1333.29H1926.71V1344.27" stroke="#000" stroke-width="2.1" fill="none"/><rect x="1961.56" y="1342.97" width="20.1" height="8.4" fill="#ff0000" stroke="#000" stroke-width="2.8"/><text x="1997.01" y="1353.31" transform="rotate(0.05 1997.01 1353.31)" font-size="18">Ethylene</text><rect x="1961.56" y="1371.47" width="20.1" height="8.4" fill="#c4c400" stroke="#000" stroke-width="2.8"/><text x="1997.01" y="1381.81" transform="rotate(0.05 1997.01 1381.81)" font-size="18">CK</text><rect x="1961.56" y="1399.97" width="20.1" height="8.4" fill="#0d9b62" stroke="#000" stroke-width="2.8"/><text x="1997.01" y="1410.31" transform="rotate(0.05 1997.01 1410.31)" font-size="18">1-MCP</text></g></svg></body></html>
